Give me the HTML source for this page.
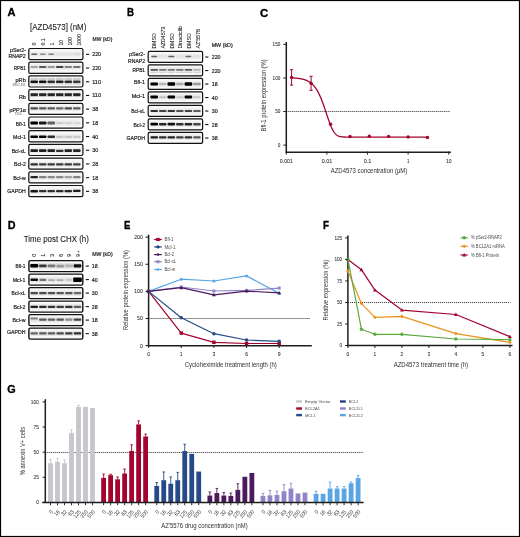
<!DOCTYPE html>
<html><head><meta charset="utf-8"><style>
html,body{margin:0;padding:0;background:#fff;}
svg{display:block;font-family:"Liberation Sans", sans-serif;will-change:transform;}
</style></head><body>
<svg width="520" height="537" viewBox="0 0 520 537">
<defs><filter id="bl" x="-20%" y="-60%" width="140%" height="220%"><feGaussianBlur stdDeviation="0.55"/></filter></defs>
<rect x="0" y="0" width="520" height="537" fill="#fff"/>
<text x="7.60" y="16.20" font-size="11.2" text-anchor="start" fill="#000" font-weight="bold" textLength="8.00" lengthAdjust="spacingAndGlyphs" stroke="#000" stroke-width="0.35">A</text>
<text x="127.00" y="16.40" font-size="11.2" text-anchor="start" fill="#000" font-weight="bold" textLength="7.00" lengthAdjust="spacingAndGlyphs" stroke="#000" stroke-width="0.35">B</text>
<text x="260.00" y="16.50" font-size="11.2" text-anchor="start" fill="#000" font-weight="bold" textLength="8.20" lengthAdjust="spacingAndGlyphs" stroke="#000" stroke-width="0.35">C</text>
<text x="7.80" y="229.00" font-size="11.2" text-anchor="start" fill="#000" font-weight="bold" textLength="7.80" lengthAdjust="spacingAndGlyphs" stroke="#000" stroke-width="0.35">D</text>
<text x="123.90" y="229.00" font-size="11.2" text-anchor="start" fill="#000" font-weight="bold" textLength="6.40" lengthAdjust="spacingAndGlyphs" stroke="#000" stroke-width="0.35">E</text>
<text x="323.10" y="229.00" font-size="11.2" text-anchor="start" fill="#000" font-weight="bold" textLength="6.00" lengthAdjust="spacingAndGlyphs" stroke="#000" stroke-width="0.35">F</text>
<text x="7.20" y="393.30" font-size="11.2" text-anchor="start" fill="#000" font-weight="bold" textLength="8.40" lengthAdjust="spacingAndGlyphs" stroke="#000" stroke-width="0.35">G</text>
<rect x="28.80" y="48.50" width="54.10" height="11.10" rx="1.4" fill="#f7f7f7" stroke="#111" stroke-width="1.2"/>
<g filter="url(#bl)">
<rect x="30.40" y="51.60" width="50.20" height="5.2" fill="#000" fill-opacity="0.05"/>
<rect x="31.20" y="53.45" width="6.00" height="1.50" rx="0.75" fill="#000" fill-opacity="0.60"/>
<rect x="39.72" y="53.45" width="6.00" height="1.50" rx="0.75" fill="#000" fill-opacity="0.42"/>
<rect x="48.24" y="53.45" width="6.00" height="1.50" rx="0.75" fill="#000" fill-opacity="0.45"/>
<rect x="55.96" y="53.10" width="7.60" height="2.20" rx="1.00" fill="#000" fill-opacity="0.03"/>
<rect x="64.48" y="53.10" width="7.60" height="2.20" rx="1.00" fill="#000" fill-opacity="0.03"/>
<rect x="73.00" y="53.10" width="7.60" height="2.20" rx="1.00" fill="#000" fill-opacity="0.06"/>
</g>
<text x="26.00" y="52.30" font-size="5.3" text-anchor="end" fill="#262626" stroke="#262626" stroke-width="0.2" textLength="16.00" lengthAdjust="spacingAndGlyphs" >pSer2-</text>
<text x="25.70" y="58.40" font-size="5.3" text-anchor="end" fill="#262626" stroke="#262626" stroke-width="0.2" textLength="17.30" lengthAdjust="spacingAndGlyphs" >RNAP2</text>
<line x1="86.00" y1="54.35" x2="89.20" y2="54.35" stroke="#111" stroke-width="1.1" />
<text x="92.20" y="56.30" font-size="5.3" text-anchor="start" fill="#262626" stroke="#262626" stroke-width="0.2" textLength="8.85" lengthAdjust="spacingAndGlyphs" >220</text>
<rect x="28.80" y="62.20" width="54.10" height="11.10" rx="1.4" fill="#f7f7f7" stroke="#111" stroke-width="1.2"/>
<g filter="url(#bl)">
<rect x="30.40" y="64.40" width="50.20" height="5.2" fill="#000" fill-opacity="0.05"/>
<rect x="30.40" y="65.90" width="7.60" height="2.20" rx="1.00" fill="#000" fill-opacity="0.30"/>
<rect x="38.92" y="65.90" width="7.60" height="2.20" rx="1.00" fill="#000" fill-opacity="0.62"/>
<rect x="47.44" y="65.90" width="7.60" height="2.20" rx="1.00" fill="#000" fill-opacity="0.35"/>
<rect x="55.96" y="65.90" width="7.60" height="2.20" rx="1.00" fill="#000" fill-opacity="0.72"/>
<rect x="64.48" y="65.90" width="7.60" height="2.20" rx="1.00" fill="#000" fill-opacity="0.45"/>
<rect x="73.00" y="65.90" width="7.60" height="2.20" rx="1.00" fill="#000" fill-opacity="0.50"/>
</g>
<text x="25.80" y="69.60" font-size="5.3" text-anchor="end" fill="#262626" stroke="#262626" stroke-width="0.2" textLength="12.00" lengthAdjust="spacingAndGlyphs" >RPB1</text>
<line x1="86.00" y1="68.05" x2="89.20" y2="68.05" stroke="#111" stroke-width="1.1" />
<text x="92.20" y="70.00" font-size="5.3" text-anchor="start" fill="#262626" stroke="#262626" stroke-width="0.2" textLength="8.85" lengthAdjust="spacingAndGlyphs" >220</text>
<rect x="28.80" y="75.90" width="54.10" height="11.10" rx="1.4" fill="#f7f7f7" stroke="#111" stroke-width="1.2"/>
<g filter="url(#bl)">
<rect x="30.40" y="79.00" width="50.20" height="5.2" fill="#000" fill-opacity="0.05"/>
<rect x="30.40" y="80.50" width="7.60" height="2.60" rx="1.00" fill="#000" fill-opacity="0.92"/>
<rect x="38.92" y="80.50" width="7.60" height="2.60" rx="1.00" fill="#000" fill-opacity="0.92"/>
<rect x="47.44" y="80.50" width="7.60" height="2.60" rx="1.00" fill="#000" fill-opacity="0.80"/>
<rect x="55.96" y="80.50" width="7.60" height="2.60" rx="1.00" fill="#000" fill-opacity="0.85"/>
<rect x="64.48" y="80.50" width="7.60" height="2.60" rx="1.00" fill="#000" fill-opacity="0.80"/>
<rect x="73.00" y="80.50" width="7.60" height="2.60" rx="1.00" fill="#000" fill-opacity="0.75"/>
<rect x="30.40" y="78.20" width="7.60" height="1.40" fill="#000" fill-opacity="0.22"/>
<rect x="38.92" y="78.20" width="7.60" height="1.40" fill="#000" fill-opacity="0.22"/>
<rect x="47.44" y="78.20" width="7.60" height="1.40" fill="#000" fill-opacity="0.22"/>
<rect x="55.96" y="78.20" width="7.60" height="1.40" fill="#000" fill-opacity="0.22"/>
<rect x="64.48" y="78.20" width="7.60" height="1.40" fill="#000" fill-opacity="0.22"/>
<rect x="73.00" y="78.20" width="7.60" height="1.40" fill="#000" fill-opacity="0.22"/>
<rect x="30.40" y="83.40" width="7.60" height="1.20" fill="#000" fill-opacity="0.15"/>
<rect x="38.92" y="83.40" width="7.60" height="1.20" fill="#000" fill-opacity="0.15"/>
<rect x="47.44" y="83.40" width="7.60" height="1.20" fill="#000" fill-opacity="0.15"/>
<rect x="55.96" y="83.40" width="7.60" height="1.20" fill="#000" fill-opacity="0.15"/>
<rect x="64.48" y="83.40" width="7.60" height="1.20" fill="#000" fill-opacity="0.15"/>
<rect x="73.00" y="83.40" width="7.60" height="1.20" fill="#000" fill-opacity="0.15"/>
</g>
<text x="25.80" y="82.10" font-size="5.3" text-anchor="end" fill="#262626" stroke="#262626" stroke-width="0.2" textLength="10.30" lengthAdjust="spacingAndGlyphs" >pRb</text>
<line x1="86.00" y1="81.75" x2="89.20" y2="81.75" stroke="#111" stroke-width="1.1" />
<text x="92.20" y="83.70" font-size="5.3" text-anchor="start" fill="#262626" stroke="#262626" stroke-width="0.2" textLength="8.85" lengthAdjust="spacingAndGlyphs" >110</text>
<rect x="28.80" y="89.60" width="54.10" height="11.10" rx="1.4" fill="#f7f7f7" stroke="#111" stroke-width="1.2"/>
<g filter="url(#bl)">
<rect x="30.40" y="92.00" width="50.20" height="5.2" fill="#000" fill-opacity="0.05"/>
<rect x="30.40" y="93.20" width="7.60" height="2.80" rx="1.00" fill="#000" fill-opacity="0.85"/>
<rect x="38.92" y="93.20" width="7.60" height="2.80" rx="1.00" fill="#000" fill-opacity="0.85"/>
<rect x="47.44" y="93.20" width="7.60" height="2.80" rx="1.00" fill="#000" fill-opacity="0.85"/>
<rect x="55.96" y="93.20" width="7.60" height="2.80" rx="1.00" fill="#000" fill-opacity="0.85"/>
<rect x="64.48" y="93.20" width="7.60" height="2.80" rx="1.00" fill="#000" fill-opacity="0.85"/>
<rect x="73.00" y="93.20" width="7.60" height="2.80" rx="1.00" fill="#000" fill-opacity="0.85"/>
<rect x="30.40" y="95.90" width="7.60" height="1.00" fill="#000" fill-opacity="0.20"/>
<rect x="38.92" y="95.90" width="7.60" height="1.00" fill="#000" fill-opacity="0.20"/>
<rect x="47.44" y="95.90" width="7.60" height="1.00" fill="#000" fill-opacity="0.20"/>
<rect x="55.96" y="95.90" width="7.60" height="1.00" fill="#000" fill-opacity="0.20"/>
<rect x="64.48" y="95.90" width="7.60" height="1.00" fill="#000" fill-opacity="0.20"/>
<rect x="73.00" y="95.90" width="7.60" height="1.00" fill="#000" fill-opacity="0.20"/>
</g>
<text x="25.80" y="99.00" font-size="5.3" text-anchor="end" fill="#262626" stroke="#262626" stroke-width="0.2" textLength="6.90" lengthAdjust="spacingAndGlyphs" >Rb</text>
<line x1="86.00" y1="95.45" x2="89.20" y2="95.45" stroke="#111" stroke-width="1.1" />
<text x="92.20" y="97.40" font-size="5.3" text-anchor="start" fill="#262626" stroke="#262626" stroke-width="0.2" textLength="8.85" lengthAdjust="spacingAndGlyphs" >110</text>
<rect x="28.80" y="103.30" width="54.10" height="11.10" rx="1.4" fill="#f7f7f7" stroke="#111" stroke-width="1.2"/>
<g filter="url(#bl)">
<rect x="30.40" y="105.70" width="50.20" height="5.2" fill="#000" fill-opacity="0.05"/>
<rect x="30.40" y="107.20" width="7.60" height="2.20" rx="1.00" fill="#000" fill-opacity="0.68"/>
<rect x="38.92" y="107.20" width="7.60" height="2.20" rx="1.00" fill="#000" fill-opacity="0.62"/>
<rect x="47.44" y="107.20" width="7.60" height="2.20" rx="1.00" fill="#000" fill-opacity="0.62"/>
<rect x="55.96" y="107.20" width="7.60" height="2.20" rx="1.00" fill="#000" fill-opacity="0.55"/>
<rect x="64.48" y="107.20" width="7.60" height="2.20" rx="1.00" fill="#000" fill-opacity="0.68"/>
<rect x="73.00" y="107.20" width="7.60" height="2.20" rx="1.00" fill="#000" fill-opacity="0.62"/>
</g>
<text x="25.80" y="111.80" font-size="5.3" text-anchor="end" fill="#262626" stroke="#262626" stroke-width="0.2" textLength="16.30" lengthAdjust="spacingAndGlyphs" >pPP1α</text>
<line x1="86.00" y1="109.15" x2="89.20" y2="109.15" stroke="#111" stroke-width="1.1" />
<text x="92.20" y="111.10" font-size="5.3" text-anchor="start" fill="#262626" stroke="#262626" stroke-width="0.2" textLength="5.90" lengthAdjust="spacingAndGlyphs" >38</text>
<rect x="28.80" y="117.00" width="54.10" height="11.10" rx="1.4" fill="#f7f7f7" stroke="#111" stroke-width="1.2"/>
<g filter="url(#bl)">
<rect x="30.40" y="120.40" width="50.20" height="5.2" fill="#000" fill-opacity="0.05"/>
<rect x="30.40" y="121.50" width="7.60" height="3.00" rx="1.00" fill="#000" fill-opacity="1.00"/>
<rect x="38.92" y="121.50" width="7.60" height="3.00" rx="1.00" fill="#000" fill-opacity="0.90"/>
<rect x="47.44" y="121.60" width="7.60" height="2.80" rx="1.00" fill="#000" fill-opacity="0.60"/>
<rect x="55.96" y="121.90" width="7.60" height="2.20" rx="1.00" fill="#000" fill-opacity="0.13"/>
<rect x="64.48" y="121.90" width="7.60" height="2.20" rx="1.00" fill="#000" fill-opacity="0.10"/>
<rect x="73.00" y="121.90" width="7.60" height="2.20" rx="1.00" fill="#000" fill-opacity="0.08"/>
</g>
<text x="25.80" y="125.90" font-size="5.3" text-anchor="end" fill="#262626" stroke="#262626" stroke-width="0.2" textLength="10.00" lengthAdjust="spacingAndGlyphs" >Bfl-1</text>
<line x1="86.00" y1="122.85" x2="89.20" y2="122.85" stroke="#111" stroke-width="1.1" />
<text x="92.20" y="124.80" font-size="5.3" text-anchor="start" fill="#262626" stroke="#262626" stroke-width="0.2" textLength="5.90" lengthAdjust="spacingAndGlyphs" >18</text>
<rect x="28.80" y="130.70" width="54.10" height="11.10" rx="1.4" fill="#f7f7f7" stroke="#111" stroke-width="1.2"/>
<g filter="url(#bl)">
<rect x="30.40" y="134.20" width="50.20" height="5.2" fill="#000" fill-opacity="0.05"/>
<rect x="30.40" y="135.50" width="7.60" height="2.60" rx="1.00" fill="#000" fill-opacity="1.00"/>
<rect x="38.92" y="135.50" width="7.60" height="2.60" rx="1.00" fill="#000" fill-opacity="1.00"/>
<rect x="47.44" y="135.50" width="7.60" height="2.60" rx="1.00" fill="#000" fill-opacity="0.82"/>
<rect x="55.96" y="135.70" width="7.60" height="2.20" rx="1.00" fill="#000" fill-opacity="0.16"/>
<rect x="64.48" y="135.70" width="7.60" height="2.20" rx="1.00" fill="#000" fill-opacity="0.16"/>
<rect x="73.00" y="135.70" width="7.60" height="2.20" rx="1.00" fill="#000" fill-opacity="0.14"/>
</g>
<text x="25.80" y="139.30" font-size="5.3" text-anchor="end" fill="#262626" stroke="#262626" stroke-width="0.2" textLength="12.70" lengthAdjust="spacingAndGlyphs" >Mcl-1</text>
<line x1="86.00" y1="136.55" x2="89.20" y2="136.55" stroke="#111" stroke-width="1.1" />
<text x="92.20" y="138.50" font-size="5.3" text-anchor="start" fill="#262626" stroke="#262626" stroke-width="0.2" textLength="5.90" lengthAdjust="spacingAndGlyphs" >40</text>
<rect x="28.80" y="144.40" width="54.10" height="11.10" rx="1.4" fill="#f7f7f7" stroke="#111" stroke-width="1.2"/>
<g filter="url(#bl)">
<rect x="30.40" y="148.00" width="50.20" height="5.2" fill="#000" fill-opacity="0.05"/>
<rect x="30.40" y="149.30" width="7.60" height="2.60" rx="1.00" fill="#000" fill-opacity="0.88"/>
<rect x="38.92" y="149.30" width="7.60" height="2.60" rx="1.00" fill="#000" fill-opacity="0.88"/>
<rect x="47.44" y="149.30" width="7.60" height="2.60" rx="1.00" fill="#000" fill-opacity="0.88"/>
<rect x="55.96" y="149.70" width="7.60" height="2.40" rx="1.00" fill="#000" fill-opacity="0.80"/>
<rect x="64.48" y="149.30" width="7.60" height="2.60" rx="1.00" fill="#000" fill-opacity="0.85"/>
<rect x="73.00" y="149.30" width="7.60" height="2.60" rx="1.00" fill="#000" fill-opacity="0.85"/>
</g>
<text x="25.80" y="152.60" font-size="5.3" text-anchor="end" fill="#262626" stroke="#262626" stroke-width="0.2" textLength="14.10" lengthAdjust="spacingAndGlyphs" >Bcl-xL</text>
<line x1="86.00" y1="150.25" x2="89.20" y2="150.25" stroke="#111" stroke-width="1.1" />
<text x="92.20" y="152.20" font-size="5.3" text-anchor="start" fill="#262626" stroke="#262626" stroke-width="0.2" textLength="5.90" lengthAdjust="spacingAndGlyphs" >30</text>
<rect x="28.80" y="158.10" width="54.10" height="11.10" rx="1.4" fill="#f7f7f7" stroke="#111" stroke-width="1.2"/>
<g filter="url(#bl)">
<rect x="30.40" y="161.70" width="50.20" height="5.2" fill="#000" fill-opacity="0.05"/>
<rect x="30.40" y="163.20" width="7.60" height="2.20" rx="1.00" fill="#000" fill-opacity="0.80"/>
<rect x="38.92" y="163.20" width="7.60" height="2.20" rx="1.00" fill="#000" fill-opacity="0.75"/>
<rect x="47.44" y="163.20" width="7.60" height="2.20" rx="1.00" fill="#000" fill-opacity="0.75"/>
<rect x="55.96" y="163.20" width="7.60" height="2.20" rx="1.00" fill="#000" fill-opacity="0.75"/>
<rect x="64.48" y="163.20" width="7.60" height="2.20" rx="1.00" fill="#000" fill-opacity="0.75"/>
<rect x="73.00" y="163.20" width="7.60" height="2.20" rx="1.00" fill="#000" fill-opacity="0.72"/>
</g>
<text x="25.80" y="166.30" font-size="5.3" text-anchor="end" fill="#262626" stroke="#262626" stroke-width="0.2" textLength="11.80" lengthAdjust="spacingAndGlyphs" >Bcl-2</text>
<line x1="86.00" y1="163.95" x2="89.20" y2="163.95" stroke="#111" stroke-width="1.1" />
<text x="92.20" y="165.90" font-size="5.3" text-anchor="start" fill="#262626" stroke="#262626" stroke-width="0.2" textLength="5.90" lengthAdjust="spacingAndGlyphs" >28</text>
<rect x="28.80" y="171.80" width="54.10" height="11.10" rx="1.4" fill="#f7f7f7" stroke="#111" stroke-width="1.2"/>
<g filter="url(#bl)">
<rect x="30.40" y="174.50" width="50.20" height="5.2" fill="#000" fill-opacity="0.05"/>
<rect x="30.40" y="175.90" width="7.60" height="2.40" rx="1.00" fill="#000" fill-opacity="0.85"/>
<rect x="38.92" y="176.00" width="7.60" height="2.20" rx="1.00" fill="#000" fill-opacity="0.45"/>
<rect x="47.44" y="176.00" width="7.60" height="2.20" rx="1.00" fill="#000" fill-opacity="0.42"/>
<rect x="55.96" y="176.00" width="7.60" height="2.20" rx="1.00" fill="#000" fill-opacity="0.42"/>
<rect x="64.48" y="176.00" width="7.60" height="2.20" rx="1.00" fill="#000" fill-opacity="0.32"/>
<rect x="73.00" y="176.00" width="7.60" height="2.20" rx="1.00" fill="#000" fill-opacity="0.45"/>
</g>
<text x="25.80" y="179.70" font-size="5.3" text-anchor="end" fill="#262626" stroke="#262626" stroke-width="0.2" textLength="12.60" lengthAdjust="spacingAndGlyphs" >Bcl-w</text>
<line x1="86.00" y1="177.65" x2="89.20" y2="177.65" stroke="#111" stroke-width="1.1" />
<text x="92.20" y="179.60" font-size="5.3" text-anchor="start" fill="#262626" stroke="#262626" stroke-width="0.2" textLength="5.90" lengthAdjust="spacingAndGlyphs" >18</text>
<rect x="28.80" y="185.50" width="54.10" height="11.10" rx="1.4" fill="#f7f7f7" stroke="#111" stroke-width="1.2"/>
<g filter="url(#bl)">
<rect x="30.40" y="188.60" width="50.20" height="5.2" fill="#000" fill-opacity="0.05"/>
<rect x="30.40" y="190.00" width="7.60" height="2.40" rx="1.00" fill="#000" fill-opacity="0.92"/>
<rect x="38.92" y="190.10" width="7.60" height="2.20" rx="1.00" fill="#000" fill-opacity="0.80"/>
<rect x="47.44" y="190.10" width="7.60" height="2.20" rx="1.00" fill="#000" fill-opacity="0.80"/>
<rect x="55.96" y="190.10" width="7.60" height="2.20" rx="1.00" fill="#000" fill-opacity="0.82"/>
<rect x="64.48" y="190.10" width="7.60" height="2.20" rx="1.00" fill="#000" fill-opacity="0.85"/>
<rect x="73.00" y="189.80" width="7.60" height="2.20" rx="1.00" fill="#000" fill-opacity="0.88"/>
</g>
<text x="25.80" y="192.90" font-size="5.3" text-anchor="end" fill="#262626" stroke="#262626" stroke-width="0.2" textLength="18.50" lengthAdjust="spacingAndGlyphs" >GAPDH</text>
<line x1="86.00" y1="191.35" x2="89.20" y2="191.35" stroke="#111" stroke-width="1.1" />
<text x="92.20" y="193.30" font-size="5.3" text-anchor="start" fill="#262626" stroke="#262626" stroke-width="0.2" textLength="5.90" lengthAdjust="spacingAndGlyphs" >38</text>
<text x="25.50" y="86.00" font-size="3.0" text-anchor="end" fill="#555" textLength="13.00" lengthAdjust="spacingAndGlyphs" >S807-811</text>
<text x="21.30" y="115.20" font-size="3.0" text-anchor="end" fill="#555" textLength="6.80" lengthAdjust="spacingAndGlyphs" >T320</text>
<text x="30.10" y="29.70" font-size="8.2" text-anchor="start" fill="#262626" stroke="#262626" stroke-width="0.12" textLength="56.20" lengthAdjust="spacingAndGlyphs" >[AZD4573] (nM)</text>
<text x="36.00" y="45.60" font-size="5.6" text-anchor="start" fill="#262626" stroke="#262626" stroke-width="0.1" textLength="2.85" lengthAdjust="spacingAndGlyphs" transform="rotate(-90 36.00 45.60)" >0</text>
<text x="44.75" y="45.60" font-size="5.6" text-anchor="start" fill="#262626" stroke="#262626" stroke-width="0.1" textLength="7.10" lengthAdjust="spacingAndGlyphs" transform="rotate(-90 44.75 45.60)" >0.1</text>
<text x="54.00" y="45.60" font-size="5.6" text-anchor="start" fill="#262626" stroke="#262626" stroke-width="0.1" textLength="2.85" lengthAdjust="spacingAndGlyphs" transform="rotate(-90 54.00 45.60)" >1</text>
<text x="63.15" y="45.60" font-size="5.6" text-anchor="start" fill="#262626" stroke="#262626" stroke-width="0.1" textLength="5.70" lengthAdjust="spacingAndGlyphs" transform="rotate(-90 63.15 45.60)" >10</text>
<text x="72.10" y="45.60" font-size="5.6" text-anchor="start" fill="#262626" stroke="#262626" stroke-width="0.1" textLength="8.55" lengthAdjust="spacingAndGlyphs" transform="rotate(-90 72.10 45.60)" >100</text>
<text x="81.20" y="45.60" font-size="5.6" text-anchor="start" fill="#262626" stroke="#262626" stroke-width="0.1" textLength="11.40" lengthAdjust="spacingAndGlyphs" transform="rotate(-90 81.20 45.60)" >1000</text>
<text x="92.60" y="41.00" font-size="5.0" text-anchor="start" fill="#262626" stroke="#262626" stroke-width="0.2" textLength="19.70" lengthAdjust="spacingAndGlyphs" >MW (kD)</text>
<rect x="148.20" y="51.30" width="54.40" height="11.10" rx="1.4" fill="#f7f7f7" stroke="#111" stroke-width="1.2"/>
<g filter="url(#bl)">
<rect x="150.40" y="53.90" width="50.35" height="5.2" fill="#000" fill-opacity="0.05"/>
<rect x="151.20" y="55.75" width="6.00" height="1.50" rx="0.75" fill="#000" fill-opacity="0.60"/>
<rect x="158.95" y="55.40" width="7.60" height="2.20" rx="1.00" fill="#000" fill-opacity="0.04"/>
<rect x="168.30" y="55.75" width="6.00" height="1.50" rx="0.75" fill="#000" fill-opacity="0.60"/>
<rect x="176.05" y="55.40" width="7.60" height="2.20" rx="1.00" fill="#000" fill-opacity="0.04"/>
<rect x="185.40" y="55.75" width="6.00" height="1.50" rx="0.75" fill="#000" fill-opacity="0.55"/>
<rect x="193.15" y="55.40" width="7.60" height="2.20" rx="1.00" fill="#000" fill-opacity="0.05"/>
</g>
<text x="145.10" y="56.20" font-size="5.3" text-anchor="end" fill="#262626" stroke="#262626" stroke-width="0.2" textLength="16.10" lengthAdjust="spacingAndGlyphs" >pSer2-</text>
<text x="145.10" y="62.70" font-size="5.3" text-anchor="end" fill="#262626" stroke="#262626" stroke-width="0.2" textLength="17.10" lengthAdjust="spacingAndGlyphs" >RNAP2</text>
<line x1="205.20" y1="57.05" x2="208.40" y2="57.05" stroke="#111" stroke-width="1.1" />
<text x="211.70" y="59.00" font-size="5.3" text-anchor="start" fill="#262626" stroke="#262626" stroke-width="0.2" textLength="8.85" lengthAdjust="spacingAndGlyphs" >220</text>
<rect x="148.20" y="64.80" width="54.40" height="11.10" rx="1.4" fill="#f7f7f7" stroke="#111" stroke-width="1.2"/>
<g filter="url(#bl)">
<rect x="150.40" y="67.20" width="50.35" height="5.2" fill="#000" fill-opacity="0.05"/>
<rect x="150.40" y="68.95" width="7.60" height="1.70" rx="0.85" fill="#000" fill-opacity="0.65"/>
<rect x="158.95" y="68.95" width="7.60" height="1.70" rx="0.85" fill="#000" fill-opacity="0.50"/>
<rect x="167.50" y="68.95" width="7.60" height="1.70" rx="0.85" fill="#000" fill-opacity="0.50"/>
<rect x="176.05" y="68.95" width="7.60" height="1.70" rx="0.85" fill="#000" fill-opacity="0.50"/>
<rect x="184.60" y="68.95" width="7.60" height="1.70" rx="0.85" fill="#000" fill-opacity="0.62"/>
<rect x="193.15" y="68.95" width="7.60" height="1.70" rx="0.85" fill="#000" fill-opacity="0.25"/>
<rect x="150.40" y="71.90" width="7.60" height="1.00" fill="#000" fill-opacity="0.15"/>
<rect x="158.95" y="71.90" width="7.60" height="1.00" fill="#000" fill-opacity="0.15"/>
<rect x="167.50" y="71.90" width="7.60" height="1.00" fill="#000" fill-opacity="0.15"/>
<rect x="176.05" y="71.90" width="7.60" height="1.00" fill="#000" fill-opacity="0.15"/>
<rect x="184.60" y="71.90" width="7.60" height="1.00" fill="#000" fill-opacity="0.15"/>
<rect x="193.15" y="71.90" width="7.60" height="1.00" fill="#000" fill-opacity="0.15"/>
</g>
<text x="145.00" y="71.80" font-size="5.3" text-anchor="end" fill="#262626" stroke="#262626" stroke-width="0.2" textLength="12.50" lengthAdjust="spacingAndGlyphs" >RPB1</text>
<line x1="205.20" y1="70.55" x2="208.40" y2="70.55" stroke="#111" stroke-width="1.1" />
<text x="211.70" y="72.50" font-size="5.3" text-anchor="start" fill="#262626" stroke="#262626" stroke-width="0.2" textLength="8.85" lengthAdjust="spacingAndGlyphs" >220</text>
<rect x="148.20" y="78.30" width="54.40" height="11.10" rx="1.4" fill="#f7f7f7" stroke="#111" stroke-width="1.2"/>
<g filter="url(#bl)">
<rect x="150.40" y="81.40" width="50.35" height="5.2" fill="#000" fill-opacity="0.05"/>
<rect x="150.40" y="82.40" width="7.60" height="3.20" rx="1.00" fill="#000" fill-opacity="1.00"/>
<rect x="158.95" y="82.80" width="7.60" height="2.40" rx="1.00" fill="#000" fill-opacity="0.22"/>
<rect x="167.50" y="82.30" width="7.60" height="3.40" rx="1.00" fill="#000" fill-opacity="1.00"/>
<rect x="176.05" y="82.80" width="7.60" height="2.40" rx="1.00" fill="#000" fill-opacity="0.28"/>
<rect x="184.60" y="82.30" width="7.60" height="3.40" rx="1.00" fill="#000" fill-opacity="1.00"/>
<rect x="193.15" y="82.80" width="7.60" height="2.40" rx="1.00" fill="#000" fill-opacity="0.35"/>
</g>
<text x="145.00" y="84.40" font-size="5.3" text-anchor="end" fill="#262626" stroke="#262626" stroke-width="0.2" textLength="10.90" lengthAdjust="spacingAndGlyphs" >Bfl-1</text>
<line x1="205.20" y1="84.05" x2="208.40" y2="84.05" stroke="#111" stroke-width="1.1" />
<text x="211.70" y="86.00" font-size="5.3" text-anchor="start" fill="#262626" stroke="#262626" stroke-width="0.2" textLength="5.90" lengthAdjust="spacingAndGlyphs" >18</text>
<rect x="148.20" y="91.80" width="54.40" height="11.10" rx="1.4" fill="#f7f7f7" stroke="#111" stroke-width="1.2"/>
<g filter="url(#bl)">
<rect x="150.40" y="94.30" width="50.35" height="5.2" fill="#000" fill-opacity="0.05"/>
<rect x="150.40" y="95.40" width="7.60" height="3.00" rx="1.00" fill="#000" fill-opacity="1.00"/>
<rect x="158.95" y="96.30" width="7.60" height="2.00" rx="1.00" fill="#000" fill-opacity="0.18"/>
<rect x="167.50" y="95.40" width="7.60" height="3.00" rx="1.00" fill="#000" fill-opacity="1.00"/>
<rect x="176.05" y="96.30" width="7.60" height="2.00" rx="1.00" fill="#000" fill-opacity="0.15"/>
<rect x="184.60" y="95.40" width="7.60" height="3.00" rx="1.00" fill="#000" fill-opacity="1.00"/>
<rect x="193.15" y="96.30" width="7.60" height="2.00" rx="1.00" fill="#000" fill-opacity="0.15"/>
</g>
<text x="145.00" y="98.40" font-size="5.3" text-anchor="end" fill="#262626" stroke="#262626" stroke-width="0.2" textLength="13.30" lengthAdjust="spacingAndGlyphs" >Mcl-1</text>
<line x1="205.20" y1="97.55" x2="208.40" y2="97.55" stroke="#111" stroke-width="1.1" />
<text x="211.70" y="99.50" font-size="5.3" text-anchor="start" fill="#262626" stroke="#262626" stroke-width="0.2" textLength="5.90" lengthAdjust="spacingAndGlyphs" >40</text>
<rect x="148.20" y="105.30" width="54.40" height="11.10" rx="1.4" fill="#f7f7f7" stroke="#111" stroke-width="1.2"/>
<g filter="url(#bl)">
<rect x="150.40" y="108.40" width="50.35" height="5.2" fill="#000" fill-opacity="0.05"/>
<rect x="150.40" y="109.90" width="7.60" height="2.20" rx="1.00" fill="#000" fill-opacity="0.80"/>
<rect x="158.95" y="109.90" width="7.60" height="2.20" rx="1.00" fill="#000" fill-opacity="0.72"/>
<rect x="167.50" y="109.90" width="7.60" height="2.20" rx="1.00" fill="#000" fill-opacity="0.78"/>
<rect x="176.05" y="109.90" width="7.60" height="2.20" rx="1.00" fill="#000" fill-opacity="0.66"/>
<rect x="184.60" y="109.90" width="7.60" height="2.20" rx="1.00" fill="#000" fill-opacity="0.72"/>
<rect x="193.15" y="109.90" width="7.60" height="2.20" rx="1.00" fill="#000" fill-opacity="0.60"/>
</g>
<text x="145.00" y="113.00" font-size="5.3" text-anchor="end" fill="#262626" stroke="#262626" stroke-width="0.2" textLength="13.70" lengthAdjust="spacingAndGlyphs" >Bcl-xL</text>
<line x1="205.20" y1="111.05" x2="208.40" y2="111.05" stroke="#111" stroke-width="1.1" />
<text x="211.70" y="113.00" font-size="5.3" text-anchor="start" fill="#262626" stroke="#262626" stroke-width="0.2" textLength="5.90" lengthAdjust="spacingAndGlyphs" >30</text>
<rect x="148.20" y="118.80" width="54.40" height="11.10" rx="1.4" fill="#f7f7f7" stroke="#111" stroke-width="1.2"/>
<g filter="url(#bl)">
<rect x="150.40" y="121.60" width="50.35" height="5.2" fill="#000" fill-opacity="0.05"/>
<rect x="150.40" y="122.80" width="7.60" height="2.80" rx="1.00" fill="#000" fill-opacity="1.00"/>
<rect x="158.95" y="122.90" width="7.60" height="2.60" rx="1.00" fill="#000" fill-opacity="0.85"/>
<rect x="167.50" y="122.80" width="7.60" height="2.80" rx="1.00" fill="#000" fill-opacity="0.92"/>
<rect x="176.05" y="122.90" width="7.60" height="2.60" rx="1.00" fill="#000" fill-opacity="0.80"/>
<rect x="184.60" y="122.90" width="7.60" height="2.60" rx="1.00" fill="#000" fill-opacity="0.85"/>
<rect x="193.15" y="123.00" width="7.60" height="2.40" rx="1.00" fill="#000" fill-opacity="0.70"/>
</g>
<text x="145.00" y="127.00" font-size="5.3" text-anchor="end" fill="#262626" stroke="#262626" stroke-width="0.2" textLength="11.50" lengthAdjust="spacingAndGlyphs" >Bcl-2</text>
<line x1="205.20" y1="124.55" x2="208.40" y2="124.55" stroke="#111" stroke-width="1.1" />
<text x="211.70" y="126.50" font-size="5.3" text-anchor="start" fill="#262626" stroke="#262626" stroke-width="0.2" textLength="5.90" lengthAdjust="spacingAndGlyphs" >28</text>
<rect x="148.20" y="132.30" width="54.40" height="11.10" rx="1.4" fill="#f7f7f7" stroke="#111" stroke-width="1.2"/>
<g filter="url(#bl)">
<rect x="150.40" y="134.70" width="50.35" height="5.2" fill="#000" fill-opacity="0.05"/>
<rect x="150.40" y="136.20" width="7.60" height="2.20" rx="1.00" fill="#000" fill-opacity="0.88"/>
<rect x="158.95" y="136.20" width="7.60" height="2.20" rx="1.00" fill="#000" fill-opacity="0.80"/>
<rect x="167.50" y="136.20" width="7.60" height="2.20" rx="1.00" fill="#000" fill-opacity="0.85"/>
<rect x="176.05" y="136.20" width="7.60" height="2.20" rx="1.00" fill="#000" fill-opacity="0.72"/>
<rect x="184.60" y="136.20" width="7.60" height="2.20" rx="1.00" fill="#000" fill-opacity="0.80"/>
<rect x="193.15" y="136.20" width="7.60" height="2.20" rx="1.00" fill="#000" fill-opacity="0.62"/>
</g>
<text x="145.00" y="140.30" font-size="5.3" text-anchor="end" fill="#262626" stroke="#262626" stroke-width="0.2" textLength="18.60" lengthAdjust="spacingAndGlyphs" >GAPDH</text>
<line x1="205.20" y1="138.05" x2="208.40" y2="138.05" stroke="#111" stroke-width="1.1" />
<text x="211.70" y="140.00" font-size="5.3" text-anchor="start" fill="#262626" stroke="#262626" stroke-width="0.2" textLength="5.90" lengthAdjust="spacingAndGlyphs" >38</text>
<text x="211.70" y="46.60" font-size="5.0" text-anchor="start" fill="#262626" stroke="#262626" stroke-width="0.2" textLength="21.00" lengthAdjust="spacingAndGlyphs" >MW (kD)</text>
<text x="155.65" y="48.60" font-size="5.8" text-anchor="start" fill="#262626" stroke="#262626" stroke-width="0.1" textLength="15.50" lengthAdjust="spacingAndGlyphs" transform="rotate(-90 155.65 48.60)" >DMSO</text>
<text x="164.80" y="48.60" font-size="5.8" text-anchor="start" fill="#262626" stroke="#262626" stroke-width="0.1" textLength="22.00" lengthAdjust="spacingAndGlyphs" transform="rotate(-90 164.80 48.60)" >AZD4573</text>
<text x="173.60" y="48.60" font-size="5.8" text-anchor="start" fill="#262626" stroke="#262626" stroke-width="0.1" textLength="15.50" lengthAdjust="spacingAndGlyphs" transform="rotate(-90 173.60 48.60)" >DMSO</text>
<text x="182.30" y="48.60" font-size="5.8" text-anchor="start" fill="#262626" stroke="#262626" stroke-width="0.1" textLength="22.50" lengthAdjust="spacingAndGlyphs" transform="rotate(-90 182.30 48.60)" >Dinaciclib</text>
<text x="190.70" y="48.60" font-size="5.8" text-anchor="start" fill="#262626" stroke="#262626" stroke-width="0.1" textLength="15.50" lengthAdjust="spacingAndGlyphs" transform="rotate(-90 190.70 48.60)" >DMSO</text>
<text x="199.60" y="48.60" font-size="5.8" text-anchor="start" fill="#262626" stroke="#262626" stroke-width="0.1" textLength="19.50" lengthAdjust="spacingAndGlyphs" transform="rotate(-90 199.60 48.60)" >AZ'5576</text>
<rect x="28.90" y="260.60" width="53.90" height="11.00" rx="1.4" fill="#f7f7f7" stroke="#111" stroke-width="1.4"/>
<g filter="url(#bl)">
<rect x="30.40" y="263.20" width="50.90" height="5.2" fill="#000" fill-opacity="0.12"/>
<rect x="30.20" y="264.00" width="8.00" height="3.60" rx="1.00" fill="#000" fill-opacity="1.00"/>
<rect x="39.06" y="264.40" width="7.60" height="2.80" rx="1.00" fill="#000" fill-opacity="0.75"/>
<rect x="47.72" y="264.40" width="7.60" height="2.80" rx="1.00" fill="#000" fill-opacity="0.45"/>
<rect x="56.38" y="264.70" width="7.60" height="2.80" rx="1.00" fill="#000" fill-opacity="0.30"/>
<rect x="65.04" y="264.50" width="7.60" height="2.60" rx="1.00" fill="#000" fill-opacity="0.18"/>
<rect x="73.70" y="264.20" width="7.60" height="3.20" rx="1.00" fill="#000" fill-opacity="0.92"/>
</g>
<text x="25.50" y="268.00" font-size="5.3" text-anchor="end" fill="#262626" stroke="#262626" stroke-width="0.2" textLength="9.90" lengthAdjust="spacingAndGlyphs" >Bfl-1</text>
<line x1="85.70" y1="266.10" x2="88.90" y2="266.10" stroke="#111" stroke-width="1.1" />
<text x="91.80" y="268.05" font-size="5.3" text-anchor="start" fill="#262626" stroke="#262626" stroke-width="0.2" textLength="5.90" lengthAdjust="spacingAndGlyphs" >18</text>
<rect x="28.90" y="274.10" width="53.90" height="11.00" rx="1.4" fill="#f7f7f7" stroke="#111" stroke-width="1.4"/>
<g filter="url(#bl)">
<rect x="30.40" y="277.20" width="50.90" height="5.2" fill="#000" fill-opacity="0.07"/>
<rect x="30.40" y="278.50" width="7.60" height="2.60" rx="1.00" fill="#000" fill-opacity="0.95"/>
<rect x="39.36" y="278.70" width="7.00" height="2.20" rx="1.00" fill="#000" fill-opacity="0.50"/>
<rect x="48.02" y="279.20" width="7.00" height="1.80" rx="0.90" fill="#000" fill-opacity="0.28"/>
<rect x="56.68" y="279.20" width="7.00" height="1.80" rx="0.90" fill="#000" fill-opacity="0.28"/>
<rect x="65.34" y="278.90" width="7.00" height="1.80" rx="0.90" fill="#000" fill-opacity="0.15"/>
<rect x="73.20" y="277.50" width="8.60" height="4.60" rx="1.00" fill="#000" fill-opacity="1.00"/>
</g>
<text x="25.50" y="281.80" font-size="5.3" text-anchor="end" fill="#262626" stroke="#262626" stroke-width="0.2" textLength="12.70" lengthAdjust="spacingAndGlyphs" >Mcl-1</text>
<line x1="85.70" y1="279.60" x2="88.90" y2="279.60" stroke="#111" stroke-width="1.1" />
<text x="91.80" y="281.55" font-size="5.3" text-anchor="start" fill="#262626" stroke="#262626" stroke-width="0.2" textLength="5.90" lengthAdjust="spacingAndGlyphs" >40</text>
<rect x="28.90" y="287.60" width="53.90" height="11.00" rx="1.4" fill="#f7f7f7" stroke="#111" stroke-width="1.4"/>
<g filter="url(#bl)">
<rect x="30.40" y="290.60" width="50.90" height="5.2" fill="#000" fill-opacity="0.07"/>
<rect x="30.40" y="292.10" width="7.60" height="2.20" rx="1.00" fill="#000" fill-opacity="0.68"/>
<rect x="39.06" y="292.10" width="7.60" height="2.20" rx="1.00" fill="#000" fill-opacity="0.68"/>
<rect x="47.72" y="292.10" width="7.60" height="2.20" rx="1.00" fill="#000" fill-opacity="0.65"/>
<rect x="56.38" y="292.10" width="7.60" height="2.20" rx="1.00" fill="#000" fill-opacity="0.62"/>
<rect x="65.04" y="292.10" width="7.60" height="2.20" rx="1.00" fill="#000" fill-opacity="0.62"/>
<rect x="73.70" y="292.10" width="7.60" height="2.20" rx="1.00" fill="#000" fill-opacity="0.55"/>
</g>
<text x="25.50" y="294.70" font-size="5.3" text-anchor="end" fill="#262626" stroke="#262626" stroke-width="0.2" textLength="13.90" lengthAdjust="spacingAndGlyphs" >Bcl-xL</text>
<line x1="85.70" y1="293.10" x2="88.90" y2="293.10" stroke="#111" stroke-width="1.1" />
<text x="91.80" y="295.05" font-size="5.3" text-anchor="start" fill="#262626" stroke="#262626" stroke-width="0.2" textLength="5.90" lengthAdjust="spacingAndGlyphs" >30</text>
<rect x="28.90" y="301.10" width="53.90" height="11.00" rx="1.4" fill="#f7f7f7" stroke="#111" stroke-width="1.4"/>
<g filter="url(#bl)">
<rect x="30.40" y="304.20" width="50.90" height="5.2" fill="#000" fill-opacity="0.07"/>
<rect x="30.40" y="305.70" width="7.60" height="2.20" rx="1.00" fill="#000" fill-opacity="0.88"/>
<rect x="39.06" y="305.70" width="7.60" height="2.20" rx="1.00" fill="#000" fill-opacity="0.82"/>
<rect x="47.72" y="305.70" width="7.60" height="2.20" rx="1.00" fill="#000" fill-opacity="0.78"/>
<rect x="56.38" y="305.70" width="7.60" height="2.20" rx="1.00" fill="#000" fill-opacity="0.74"/>
<rect x="65.04" y="305.70" width="7.60" height="2.20" rx="1.00" fill="#000" fill-opacity="0.78"/>
<rect x="73.70" y="305.70" width="7.60" height="2.20" rx="1.00" fill="#000" fill-opacity="0.60"/>
</g>
<text x="25.50" y="308.90" font-size="5.3" text-anchor="end" fill="#262626" stroke="#262626" stroke-width="0.2" textLength="12.00" lengthAdjust="spacingAndGlyphs" >Bcl-2</text>
<line x1="85.70" y1="306.60" x2="88.90" y2="306.60" stroke="#111" stroke-width="1.1" />
<text x="91.80" y="308.55" font-size="5.3" text-anchor="start" fill="#262626" stroke="#262626" stroke-width="0.2" textLength="5.90" lengthAdjust="spacingAndGlyphs" >28</text>
<rect x="28.90" y="314.60" width="53.90" height="11.00" rx="1.4" fill="#f7f7f7" stroke="#111" stroke-width="1.4"/>
<g filter="url(#bl)">
<rect x="30.40" y="317.00" width="50.90" height="5.2" fill="#000" fill-opacity="0.07"/>
<rect x="30.40" y="317.60" width="7.60" height="2.00" rx="1.00" fill="#000" fill-opacity="0.45"/>
<rect x="39.06" y="318.50" width="7.60" height="2.20" rx="1.00" fill="#000" fill-opacity="0.62"/>
<rect x="47.72" y="318.50" width="7.60" height="2.20" rx="1.00" fill="#000" fill-opacity="0.58"/>
<rect x="56.38" y="318.50" width="7.60" height="2.20" rx="1.00" fill="#000" fill-opacity="0.62"/>
<rect x="65.04" y="318.50" width="7.60" height="2.20" rx="1.00" fill="#000" fill-opacity="0.40"/>
<rect x="73.70" y="318.50" width="7.60" height="2.20" rx="1.00" fill="#000" fill-opacity="0.72"/>
</g>
<text x="25.50" y="321.80" font-size="5.3" text-anchor="end" fill="#262626" stroke="#262626" stroke-width="0.2" textLength="12.90" lengthAdjust="spacingAndGlyphs" >Bcl-w</text>
<line x1="85.70" y1="320.10" x2="88.90" y2="320.10" stroke="#111" stroke-width="1.1" />
<text x="91.80" y="322.05" font-size="5.3" text-anchor="start" fill="#262626" stroke="#262626" stroke-width="0.2" textLength="5.90" lengthAdjust="spacingAndGlyphs" >18</text>
<rect x="28.90" y="328.10" width="53.90" height="11.00" rx="1.4" fill="#f7f7f7" stroke="#111" stroke-width="1.4"/>
<g filter="url(#bl)">
<rect x="30.40" y="330.80" width="50.90" height="5.2" fill="#000" fill-opacity="0.07"/>
<rect x="30.40" y="332.30" width="7.60" height="2.20" rx="1.00" fill="#000" fill-opacity="0.55"/>
<rect x="39.06" y="332.30" width="7.60" height="2.20" rx="1.00" fill="#000" fill-opacity="0.60"/>
<rect x="47.72" y="332.30" width="7.60" height="2.20" rx="1.00" fill="#000" fill-opacity="0.60"/>
<rect x="56.38" y="332.30" width="7.60" height="2.20" rx="1.00" fill="#000" fill-opacity="0.68"/>
<rect x="65.04" y="332.30" width="7.60" height="2.20" rx="1.00" fill="#000" fill-opacity="0.74"/>
<rect x="73.70" y="332.30" width="7.60" height="2.20" rx="1.00" fill="#000" fill-opacity="0.80"/>
</g>
<text x="25.50" y="333.80" font-size="5.3" text-anchor="end" fill="#262626" stroke="#262626" stroke-width="0.2" textLength="18.50" lengthAdjust="spacingAndGlyphs" >GAPDH</text>
<line x1="85.70" y1="333.60" x2="88.90" y2="333.60" stroke="#111" stroke-width="1.1" />
<text x="91.80" y="335.55" font-size="5.3" text-anchor="start" fill="#262626" stroke="#262626" stroke-width="0.2" textLength="5.90" lengthAdjust="spacingAndGlyphs" >38</text>
<text x="23.80" y="242.00" font-size="8.4" text-anchor="start" fill="#262626" stroke="#262626" stroke-width="0.12" textLength="65.00" lengthAdjust="spacingAndGlyphs" >Time post CHX (h)</text>
<text x="36.30" y="256.80" font-size="5.6" text-anchor="start" fill="#262626" stroke="#262626" stroke-width="0.1" textLength="2.90" lengthAdjust="spacingAndGlyphs" transform="rotate(-90 36.30 256.80)" >0</text>
<text x="45.10" y="256.80" font-size="5.6" text-anchor="start" fill="#262626" stroke="#262626" stroke-width="0.1" textLength="2.90" lengthAdjust="spacingAndGlyphs" transform="rotate(-90 45.10 256.80)" >1</text>
<text x="53.60" y="256.80" font-size="5.6" text-anchor="start" fill="#262626" stroke="#262626" stroke-width="0.1" textLength="2.90" lengthAdjust="spacingAndGlyphs" transform="rotate(-90 53.60 256.80)" >3</text>
<text x="62.60" y="256.80" font-size="5.6" text-anchor="start" fill="#262626" stroke="#262626" stroke-width="0.1" textLength="2.90" lengthAdjust="spacingAndGlyphs" transform="rotate(-90 62.60 256.80)" >6</text>
<text x="71.00" y="256.80" font-size="5.6" text-anchor="start" fill="#262626" stroke="#262626" stroke-width="0.1" textLength="2.90" lengthAdjust="spacingAndGlyphs" transform="rotate(-90 71.00 256.80)" >9</text>
<text x="80.00" y="256.80" font-size="5.6" text-anchor="start" fill="#262626" stroke="#262626" stroke-width="0.1" textLength="2.90" lengthAdjust="spacingAndGlyphs" transform="rotate(-90 80.00 256.80)" >9</text>
<text x="79.70" y="251.80" font-size="4.6" text-anchor="middle" fill="#262626" stroke="#262626" stroke-width="0.05" transform="rotate(-90 79.70 251.80)" >+</text>
<text x="92.20" y="255.60" font-size="5.0" text-anchor="start" fill="#262626" stroke="#262626" stroke-width="0.2" textLength="20.50" lengthAdjust="spacingAndGlyphs" >MW (kD)</text>
<line x1="286.30" y1="111.50" x2="450.50" y2="111.50" stroke="#2a2a2a" stroke-width="1.0" stroke-dasharray="1 1"/>
<line x1="286.30" y1="42.00" x2="286.30" y2="152.80" stroke="#1e1e1e" stroke-width="1.5" />
<line x1="285.70" y1="152.20" x2="450.90" y2="152.20" stroke="#1e1e1e" stroke-width="1.5" />
<line x1="283.30" y1="145.10" x2="286.30" y2="145.10" stroke="#1e1e1e" stroke-width="1.0" />
<text x="280.40" y="147.00" font-size="5.5" text-anchor="end" fill="#303030" stroke="#303030" stroke-width="0.08" textLength="2.60" lengthAdjust="spacingAndGlyphs" >0</text>
<line x1="283.30" y1="111.52" x2="286.30" y2="111.52" stroke="#1e1e1e" stroke-width="1.0" />
<text x="280.40" y="113.42" font-size="5.5" text-anchor="end" fill="#303030" stroke="#303030" stroke-width="0.08" textLength="5.20" lengthAdjust="spacingAndGlyphs" >50</text>
<line x1="283.30" y1="77.95" x2="286.30" y2="77.95" stroke="#1e1e1e" stroke-width="1.0" />
<text x="280.40" y="79.85" font-size="5.5" text-anchor="end" fill="#303030" stroke="#303030" stroke-width="0.08" textLength="7.80" lengthAdjust="spacingAndGlyphs" >100</text>
<line x1="283.30" y1="44.38" x2="286.30" y2="44.38" stroke="#1e1e1e" stroke-width="1.0" />
<text x="280.40" y="46.27" font-size="5.5" text-anchor="end" fill="#303030" stroke="#303030" stroke-width="0.08" textLength="7.80" lengthAdjust="spacingAndGlyphs" >150</text>
<line x1="286.30" y1="151.60" x2="286.30" y2="154.60" stroke="#1e1e1e" stroke-width="1.0" />
<text x="286.30" y="162.60" font-size="5.5" text-anchor="middle" fill="#303030" stroke="#303030" stroke-width="0.08" textLength="13.00" lengthAdjust="spacingAndGlyphs" >0.001</text>
<line x1="326.90" y1="151.60" x2="326.90" y2="154.60" stroke="#1e1e1e" stroke-width="1.0" />
<text x="326.90" y="162.60" font-size="5.5" text-anchor="middle" fill="#303030" stroke="#303030" stroke-width="0.08" textLength="10.50" lengthAdjust="spacingAndGlyphs" >0.01</text>
<line x1="367.50" y1="151.60" x2="367.50" y2="154.60" stroke="#1e1e1e" stroke-width="1.0" />
<text x="367.50" y="162.60" font-size="5.5" text-anchor="middle" fill="#303030" stroke="#303030" stroke-width="0.08" textLength="7.60" lengthAdjust="spacingAndGlyphs" >0.1</text>
<line x1="408.10" y1="151.60" x2="408.10" y2="154.60" stroke="#1e1e1e" stroke-width="1.0" />
<text x="408.10" y="162.60" font-size="5.5" text-anchor="middle" fill="#303030" stroke="#303030" stroke-width="0.08" textLength="2.40" lengthAdjust="spacingAndGlyphs" >1</text>
<line x1="448.70" y1="151.60" x2="448.70" y2="154.60" stroke="#1e1e1e" stroke-width="1.0" />
<text x="448.70" y="162.60" font-size="5.5" text-anchor="middle" fill="#303030" stroke="#303030" stroke-width="0.08" textLength="5.60" lengthAdjust="spacingAndGlyphs" >10</text>
<text x="369.00" y="173.00" font-size="6.8" text-anchor="middle" fill="#303030" textLength="76.50" lengthAdjust="spacingAndGlyphs" >AZD4573 concentration (μM)</text>
<text x="266.30" y="95.40" font-size="6.4" text-anchor="middle" fill="#303030" textLength="72.00" lengthAdjust="spacingAndGlyphs" transform="rotate(-90 266.30 95.40)" >Bfl-1 protein expression (%)</text>
<polyline points="291.58,77.85 291.98,77.86 292.39,77.89 292.80,77.91 293.20,77.93 293.61,77.96 294.01,77.98 294.42,78.01 294.83,78.04 295.23,78.07 295.64,78.11 296.04,78.14 296.45,78.18 296.86,78.22 297.26,78.27 297.67,78.31 298.07,78.36 298.48,78.41 298.89,78.47 299.29,78.53 299.70,78.59 300.10,78.65 300.51,78.72 300.92,78.80 301.32,78.88 301.73,78.96 302.13,79.05 302.54,79.15 302.95,79.25 303.35,79.35 303.76,79.47 304.16,79.59 304.57,79.71 304.98,79.85 305.38,79.99 305.79,80.14 306.19,80.30 306.60,80.47 307.01,80.65 307.41,80.84 307.82,81.04 308.22,81.26 308.63,81.48 309.04,81.72 309.44,81.98 309.85,82.24 310.25,82.53 310.66,82.83 311.07,83.14 311.47,83.47 311.88,83.83 312.28,84.20 312.69,84.59 313.10,85.00 313.50,85.43 313.91,85.89 314.31,86.37 314.72,86.87 315.13,87.40 315.53,87.96 315.94,88.54 316.34,89.15 316.75,89.79 317.16,90.46 317.56,91.16 317.97,91.89 318.37,92.65 318.78,93.44 319.19,94.26 319.59,95.12 320.00,96.01 320.40,96.92 320.81,97.87 321.22,98.85 321.62,99.86 322.03,100.90 322.43,101.97 322.84,103.06 323.25,104.18 323.65,105.32 324.06,106.48 324.46,107.66 324.87,108.86 325.28,110.06 325.68,111.28 326.09,112.50 326.49,113.72 326.90,114.95 327.31,116.16 327.71,117.37 328.12,118.56 328.52,119.73 328.93,120.88 329.34,122.01 329.74,123.11 330.15,124.17 330.55,125.19 330.96,126.17 331.37,127.11 331.77,128.01 332.18,128.86 332.58,129.66 332.99,130.41 333.40,131.11 333.80,131.76 334.21,132.36 334.61,132.91 335.02,133.41 335.43,133.87 335.83,134.28 336.24,134.65 336.64,134.98 337.05,135.27 337.46,135.53 337.86,135.76 338.27,135.96 338.67,136.14 339.08,136.28 339.49,136.41 339.89,136.52 340.30,136.62 340.70,136.69 341.11,136.76 341.52,136.82 341.92,136.86 342.33,136.90 342.73,136.93 343.14,136.96 343.55,136.98 343.95,136.99 344.36,137.01 344.76,137.02 345.17,137.03 345.58,137.04 345.98,137.04 346.39,137.05 346.79,137.05 347.20,137.05 347.61,137.05 348.01,137.06 348.42,137.06 348.82,137.06 349.23,137.06 349.64,137.06 350.04,137.06 350.45,137.06 350.85,137.06 351.26,137.06 351.67,137.06 352.07,137.06 352.48,137.06 352.88,137.06 353.29,137.06 353.70,137.06 354.10,137.06 354.51,137.06 354.91,137.06 355.32,137.06 355.73,137.06 356.13,137.06 356.54,137.06 356.94,137.06 357.35,137.06 357.76,137.06 358.16,137.06 358.57,137.06 358.97,137.06 359.38,137.06 359.79,137.06 360.19,137.06 360.60,137.06 361.00,137.06 361.41,137.06 361.82,137.06 362.22,137.06 362.63,137.06 363.03,137.06 363.44,137.06 363.85,137.06 364.25,137.06 364.66,137.06 365.06,137.06 365.47,137.06 365.88,137.06 366.28,137.06 366.69,137.06 367.09,137.06 367.50,137.06 367.91,137.06 368.31,137.06 368.72,137.06 369.12,137.06 369.53,137.06 369.94,137.06 370.34,137.06 370.75,137.06 371.15,137.06 371.56,137.06 371.97,137.06 372.37,137.06 372.78,137.06 373.18,137.06 373.59,137.06 374.00,137.06 374.40,137.06 374.81,137.06 375.21,137.06 375.62,137.06 376.03,137.06 376.43,137.06 376.84,137.06 377.24,137.06 377.65,137.06 378.06,137.06 378.46,137.06 378.87,137.06 379.27,137.06 379.68,137.06 380.09,137.06 380.49,137.06 380.90,137.06 381.30,137.06 381.71,137.06 382.12,137.06 382.52,137.06 382.93,137.06 383.33,137.06 383.74,137.06 384.15,137.06 384.55,137.06 384.96,137.06 385.36,137.06 385.77,137.06 386.18,137.06 386.58,137.06 386.99,137.06 387.39,137.06 387.80,137.06 388.21,137.06 388.61,137.06 389.02,137.06 389.42,137.06 389.83,137.06 390.24,137.06 390.64,137.06 391.05,137.06 391.45,137.06 391.86,137.06 392.27,137.06 392.67,137.06 393.08,137.06 393.48,137.06 393.89,137.06 394.30,137.06 394.70,137.06 395.11,137.06 395.51,137.06 395.92,137.06 396.33,137.06 396.73,137.06 397.14,137.06 397.54,137.06 397.95,137.06 398.36,137.06 398.76,137.06 399.17,137.06 399.57,137.06 399.98,137.06 400.39,137.06 400.79,137.06 401.20,137.06 401.60,137.06 402.01,137.06 402.42,137.06 402.82,137.06 403.23,137.06 403.63,137.06 404.04,137.06 404.45,137.06 404.85,137.06 405.26,137.06 405.66,137.06 406.07,137.06 406.48,137.06 406.88,137.06 407.29,137.06 407.69,137.06 408.10,137.06 408.51,137.06 408.91,137.06 409.32,137.06 409.72,137.06 410.13,137.06 410.54,137.06 410.94,137.06 411.35,137.06 411.75,137.06 412.16,137.06 412.57,137.06 412.97,137.06 413.38,137.06 413.78,137.06 414.19,137.06 414.60,137.06 415.00,137.06 415.41,137.06 415.81,137.06 416.22,137.06 416.63,137.06 417.03,137.06 417.44,137.06 417.84,137.06 418.25,137.06 418.66,137.06 419.06,137.06 419.47,137.06 419.87,137.06 420.28,137.06 420.69,137.06 421.09,137.06 421.50,137.06 421.90,137.06 422.31,137.06 422.72,137.06 423.12,137.06 423.53,137.06 423.93,137.06 424.34,137.06 424.75,137.06 425.15,137.06 425.56,137.06 425.96,137.06 426.37,137.06 426.78,137.06 427.18,137.06" fill="none" stroke="#a3032f" stroke-width="1.3" stroke-linejoin="round"/>
<line x1="291.58" y1="69.69" x2="291.58" y2="85.14" stroke="#a3032f" stroke-width="1.0" />
<line x1="289.98" y1="69.69" x2="293.18" y2="69.69" stroke="#a3032f" stroke-width="1.0" />
<line x1="289.98" y1="85.14" x2="293.18" y2="85.14" stroke="#a3032f" stroke-width="1.0" />
<circle cx="291.58" cy="77.41" r="1.7" fill="#a3032f"/>
<line x1="311.07" y1="76.27" x2="311.07" y2="90.37" stroke="#a3032f" stroke-width="1.0" />
<line x1="309.47" y1="76.27" x2="312.67" y2="76.27" stroke="#a3032f" stroke-width="1.0" />
<line x1="309.47" y1="90.37" x2="312.67" y2="90.37" stroke="#a3032f" stroke-width="1.0" />
<circle cx="311.07" cy="83.32" r="1.7" fill="#a3032f"/>
<circle cx="330.55" cy="124.28" r="1.7" fill="#a3032f"/>
<circle cx="350.04" cy="136.57" r="1.7" fill="#a3032f"/>
<circle cx="369.33" cy="136.17" r="1.7" fill="#a3032f"/>
<circle cx="388.61" cy="136.37" r="1.7" fill="#a3032f"/>
<circle cx="408.10" cy="136.97" r="1.7" fill="#a3032f"/>
<circle cx="427.47" cy="137.51" r="1.7" fill="#a3032f"/>
<line x1="148.60" y1="318.50" x2="310.20" y2="318.50" stroke="#2a2a2a" stroke-width="1.0" stroke-dasharray="1 1"/>
<line x1="148.60" y1="234.60" x2="148.60" y2="346.30" stroke="#1e1e1e" stroke-width="1.5" />
<line x1="148.00" y1="345.70" x2="311.80" y2="345.70" stroke="#1e1e1e" stroke-width="1.5" />
<polyline points="148.60,291.40 181.25,279.20 213.90,281.00 246.55,275.90 279.20,293.40" fill="none" stroke="#5aa6e4" stroke-width="1.2" stroke-linejoin="round"/>
<circle cx="148.60" cy="291.40" r="1.5" fill="#5aa6e4"/>
<circle cx="181.25" cy="279.20" r="1.5" fill="#5aa6e4"/>
<circle cx="213.90" cy="281.00" r="1.5" fill="#5aa6e4"/>
<circle cx="246.55" cy="275.90" r="1.5" fill="#5aa6e4"/>
<circle cx="279.20" cy="293.40" r="1.5" fill="#5aa6e4"/>
<polyline points="148.60,291.40 181.25,287.00 213.90,291.00 246.55,290.40 279.20,288.10" fill="none" stroke="#8f86c8" stroke-width="1.2" stroke-linejoin="round"/>
<rect x="147.10" y="289.90" width="3.00" height="3.00" fill="#8f86c8"/>
<rect x="179.75" y="285.50" width="3.00" height="3.00" fill="#8f86c8"/>
<rect x="212.40" y="289.50" width="3.00" height="3.00" fill="#8f86c8"/>
<rect x="245.05" y="288.90" width="3.00" height="3.00" fill="#8f86c8"/>
<rect x="277.70" y="286.60" width="3.00" height="3.00" fill="#8f86c8"/>
<polyline points="148.60,291.40 181.25,287.70 213.90,294.80 246.55,291.10 279.20,292.90" fill="none" stroke="#4b1a5c" stroke-width="1.2" stroke-linejoin="round"/>
<path d="M148.60 289.45L150.55 292.86L146.65 292.86Z" fill="#4b1a5c"/>
<path d="M181.25 285.75L183.20 289.16L179.30 289.16Z" fill="#4b1a5c"/>
<path d="M213.90 292.85L215.85 296.26L211.95 296.26Z" fill="#4b1a5c"/>
<path d="M246.55 289.15L248.50 292.56L244.60 292.56Z" fill="#4b1a5c"/>
<path d="M279.20 290.95L281.15 294.36L277.25 294.36Z" fill="#4b1a5c"/>
<polyline points="148.60,291.40 181.25,333.10 213.90,342.30 246.55,343.50 279.20,343.50" fill="none" stroke="#a3032f" stroke-width="1.2" stroke-linejoin="round"/>
<rect x="146.85" y="289.65" width="3.50" height="3.50" fill="#a3032f"/>
<rect x="179.50" y="331.35" width="3.50" height="3.50" fill="#a3032f"/>
<rect x="212.15" y="340.55" width="3.50" height="3.50" fill="#a3032f"/>
<rect x="244.80" y="341.75" width="3.50" height="3.50" fill="#a3032f"/>
<rect x="277.45" y="341.75" width="3.50" height="3.50" fill="#a3032f"/>
<polyline points="148.60,291.40 181.25,317.80 213.90,333.70 246.55,340.00 279.20,341.30" fill="none" stroke="#264a88" stroke-width="1.2" stroke-linejoin="round"/>
<circle cx="148.60" cy="291.40" r="1.75" fill="#264a88"/>
<circle cx="181.25" cy="317.80" r="1.75" fill="#264a88"/>
<circle cx="213.90" cy="333.70" r="1.75" fill="#264a88"/>
<circle cx="246.55" cy="340.00" r="1.75" fill="#264a88"/>
<circle cx="279.20" cy="341.30" r="1.75" fill="#264a88"/>
<line x1="145.60" y1="345.60" x2="148.60" y2="345.60" stroke="#1e1e1e" stroke-width="1.1" />
<text x="142.80" y="347.50" font-size="5.4" text-anchor="end" fill="#303030" stroke="#303030" stroke-width="0.08" textLength="2.85" lengthAdjust="spacingAndGlyphs" >0</text>
<line x1="145.60" y1="318.49" x2="148.60" y2="318.49" stroke="#1e1e1e" stroke-width="1.1" />
<text x="142.80" y="320.39" font-size="5.4" text-anchor="end" fill="#303030" stroke="#303030" stroke-width="0.08" textLength="5.70" lengthAdjust="spacingAndGlyphs" >50</text>
<line x1="145.60" y1="291.38" x2="148.60" y2="291.38" stroke="#1e1e1e" stroke-width="1.1" />
<text x="142.80" y="293.28" font-size="5.4" text-anchor="end" fill="#303030" stroke="#303030" stroke-width="0.08" textLength="8.55" lengthAdjust="spacingAndGlyphs" >100</text>
<line x1="145.60" y1="264.27" x2="148.60" y2="264.27" stroke="#1e1e1e" stroke-width="1.1" />
<text x="142.80" y="266.17" font-size="5.4" text-anchor="end" fill="#303030" stroke="#303030" stroke-width="0.08" textLength="8.55" lengthAdjust="spacingAndGlyphs" >150</text>
<line x1="145.60" y1="237.16" x2="148.60" y2="237.16" stroke="#1e1e1e" stroke-width="1.1" />
<text x="142.80" y="239.06" font-size="5.4" text-anchor="end" fill="#303030" stroke="#303030" stroke-width="0.08" textLength="8.55" lengthAdjust="spacingAndGlyphs" >200</text>
<line x1="148.60" y1="345.20" x2="148.60" y2="348.00" stroke="#1e1e1e" stroke-width="1.0" />
<text x="148.60" y="356.30" font-size="5.4" text-anchor="middle" fill="#303030" stroke="#303030" stroke-width="0.08" textLength="2.80" lengthAdjust="spacingAndGlyphs" >0</text>
<line x1="181.25" y1="345.20" x2="181.25" y2="348.00" stroke="#1e1e1e" stroke-width="1.0" />
<text x="181.25" y="356.30" font-size="5.4" text-anchor="middle" fill="#303030" stroke="#303030" stroke-width="0.08" textLength="2.80" lengthAdjust="spacingAndGlyphs" >1</text>
<line x1="213.90" y1="345.20" x2="213.90" y2="348.00" stroke="#1e1e1e" stroke-width="1.0" />
<text x="213.90" y="356.30" font-size="5.4" text-anchor="middle" fill="#303030" stroke="#303030" stroke-width="0.08" textLength="2.80" lengthAdjust="spacingAndGlyphs" >3</text>
<line x1="246.55" y1="345.20" x2="246.55" y2="348.00" stroke="#1e1e1e" stroke-width="1.0" />
<text x="246.55" y="356.30" font-size="5.4" text-anchor="middle" fill="#303030" stroke="#303030" stroke-width="0.08" textLength="2.80" lengthAdjust="spacingAndGlyphs" >6</text>
<line x1="279.20" y1="345.20" x2="279.20" y2="348.00" stroke="#1e1e1e" stroke-width="1.0" />
<text x="279.20" y="356.30" font-size="5.4" text-anchor="middle" fill="#303030" stroke="#303030" stroke-width="0.08" textLength="2.80" lengthAdjust="spacingAndGlyphs" >9</text>
<text x="230.80" y="367.00" font-size="7.2" text-anchor="middle" fill="#303030" textLength="92.00" lengthAdjust="spacingAndGlyphs" >Cycloheximide treatment length (h)</text>
<text x="128.20" y="290.00" font-size="6.6" text-anchor="middle" fill="#303030" textLength="80.00" lengthAdjust="spacingAndGlyphs" transform="rotate(-90 128.20 290.00)" >Relative protein expression (%)</text>
<line x1="154.10" y1="239.50" x2="161.90" y2="239.50" stroke="#a3032f" stroke-width="1.2" />
<ellipse cx="158.0" cy="239.50" rx="2.5" ry="1.7" fill="#a3032f"/>
<text x="164.50" y="241.20" font-size="4.8" text-anchor="start" fill="#4a4a4a" textLength="9.00" lengthAdjust="spacingAndGlyphs" >Bfl-1</text>
<line x1="154.10" y1="246.90" x2="161.90" y2="246.90" stroke="#264a88" stroke-width="1.2" />
<path d="M155.6 246.90L158 245.00L160.4 246.90L158 248.80Z" fill="#264a88"/>
<text x="164.50" y="248.60" font-size="4.8" text-anchor="start" fill="#4a4a4a" textLength="11.00" lengthAdjust="spacingAndGlyphs" >Mcl-1</text>
<line x1="154.10" y1="254.60" x2="161.90" y2="254.60" stroke="#4b1a5c" stroke-width="1.2" />
<path d="M156 254.60L158 253.10L160 254.60L158 256.10Z" fill="#4b1a5c"/>
<text x="164.50" y="256.30" font-size="4.8" text-anchor="start" fill="#4a4a4a" textLength="9.50" lengthAdjust="spacingAndGlyphs" >Bcl-2</text>
<line x1="154.10" y1="261.70" x2="161.90" y2="261.70" stroke="#8f86c8" stroke-width="1.2" />
<rect x="156.4" y="260.10" width="3.2" height="3.2" fill="#8f86c8" fill-opacity="0.85"/>
<text x="164.50" y="263.40" font-size="4.8" text-anchor="start" fill="#4a4a4a" textLength="11.50" lengthAdjust="spacingAndGlyphs" >Bcl-xL</text>
<line x1="154.10" y1="269.50" x2="161.90" y2="269.50" stroke="#5aa6e4" stroke-width="1.2" />
<circle cx="158.0" cy="269.50" r="1.3" fill="#5aa6e4"/>
<text x="164.50" y="271.20" font-size="4.8" text-anchor="start" fill="#4a4a4a" textLength="10.50" lengthAdjust="spacingAndGlyphs" >Bcl-w</text>
<line x1="347.90" y1="302.50" x2="510.50" y2="302.50" stroke="#2a2a2a" stroke-width="1.0" stroke-dasharray="1 1"/>
<line x1="347.90" y1="235.40" x2="347.90" y2="346.20" stroke="#1e1e1e" stroke-width="1.5" />
<line x1="347.30" y1="345.60" x2="512.50" y2="345.60" stroke="#1e1e1e" stroke-width="1.5" />
<polyline points="347.90,259.40 361.40,269.70 374.90,290.10 401.90,310.10 455.90,314.50 509.90,336.60" fill="none" stroke="#a3032f" stroke-width="1.2" stroke-linejoin="round"/>
<path d="M347.90 257.45L349.85 260.86L345.95 260.86Z" fill="#a3032f"/>
<path d="M361.40 267.75L363.35 271.16L359.45 271.16Z" fill="#a3032f"/>
<path d="M374.90 288.15L376.85 291.56L372.95 291.56Z" fill="#a3032f"/>
<path d="M401.90 308.15L403.85 311.56L399.95 311.56Z" fill="#a3032f"/>
<path d="M455.90 312.55L457.85 315.96L453.95 315.96Z" fill="#a3032f"/>
<path d="M509.90 334.65L511.85 338.06L507.95 338.06Z" fill="#a3032f"/>
<polyline points="347.90,271.00 361.40,303.40 374.90,317.30 401.90,316.40 455.90,333.60 509.90,342.40" fill="none" stroke="#e8931f" stroke-width="1.2" stroke-linejoin="round"/>
<path d="M347.90 269.12L349.77 271.00L347.90 272.88L346.02 271.00Z" fill="#e8931f"/>
<path d="M361.40 301.52L363.27 303.40L361.40 305.27L359.52 303.40Z" fill="#e8931f"/>
<path d="M374.90 315.43L376.77 317.30L374.90 319.18L373.02 317.30Z" fill="#e8931f"/>
<path d="M401.90 314.52L403.77 316.40L401.90 318.27L400.02 316.40Z" fill="#e8931f"/>
<path d="M455.90 331.73L457.77 333.60L455.90 335.48L454.02 333.60Z" fill="#e8931f"/>
<path d="M509.90 340.52L511.77 342.40L509.90 344.27L508.02 342.40Z" fill="#e8931f"/>
<polyline points="347.90,259.40 361.40,329.20 374.90,334.30 401.90,334.30 455.90,339.00 509.90,339.70" fill="none" stroke="#5cab3e" stroke-width="1.2" stroke-linejoin="round"/>
<circle cx="347.90" cy="259.40" r="1.7" fill="#5cab3e"/>
<circle cx="361.40" cy="329.20" r="1.7" fill="#5cab3e"/>
<circle cx="374.90" cy="334.30" r="1.7" fill="#5cab3e"/>
<circle cx="401.90" cy="334.30" r="1.7" fill="#5cab3e"/>
<circle cx="455.90" cy="339.00" r="1.7" fill="#5cab3e"/>
<circle cx="509.90" cy="339.70" r="1.7" fill="#5cab3e"/>
<line x1="345.10" y1="345.50" x2="347.90" y2="345.50" stroke="#1e1e1e" stroke-width="1.0" />
<text x="342.20" y="347.40" font-size="5.5" text-anchor="end" fill="#303030" stroke="#303030" stroke-width="0.08" textLength="2.60" lengthAdjust="spacingAndGlyphs" >0</text>
<line x1="345.10" y1="323.98" x2="347.90" y2="323.98" stroke="#1e1e1e" stroke-width="1.0" />
<text x="342.20" y="325.88" font-size="5.5" text-anchor="end" fill="#303030" stroke="#303030" stroke-width="0.08" textLength="5.20" lengthAdjust="spacingAndGlyphs" >25</text>
<line x1="345.10" y1="302.45" x2="347.90" y2="302.45" stroke="#1e1e1e" stroke-width="1.0" />
<text x="342.20" y="304.35" font-size="5.5" text-anchor="end" fill="#303030" stroke="#303030" stroke-width="0.08" textLength="5.20" lengthAdjust="spacingAndGlyphs" >50</text>
<line x1="345.10" y1="280.93" x2="347.90" y2="280.93" stroke="#1e1e1e" stroke-width="1.0" />
<text x="342.20" y="282.82" font-size="5.5" text-anchor="end" fill="#303030" stroke="#303030" stroke-width="0.08" textLength="5.20" lengthAdjust="spacingAndGlyphs" >75</text>
<line x1="345.10" y1="259.40" x2="347.90" y2="259.40" stroke="#1e1e1e" stroke-width="1.0" />
<text x="342.20" y="261.30" font-size="5.5" text-anchor="end" fill="#303030" stroke="#303030" stroke-width="0.08" textLength="7.80" lengthAdjust="spacingAndGlyphs" >100</text>
<line x1="345.10" y1="237.88" x2="347.90" y2="237.88" stroke="#1e1e1e" stroke-width="1.0" />
<text x="342.20" y="239.78" font-size="5.5" text-anchor="end" fill="#303030" stroke="#303030" stroke-width="0.08" textLength="7.80" lengthAdjust="spacingAndGlyphs" >125</text>
<line x1="347.90" y1="345.20" x2="347.90" y2="348.00" stroke="#1e1e1e" stroke-width="1.0" />
<text x="347.90" y="356.30" font-size="5.2" text-anchor="middle" fill="#303030" stroke="#303030" stroke-width="0.08" textLength="2.70" lengthAdjust="spacingAndGlyphs" >0</text>
<line x1="374.90" y1="345.20" x2="374.90" y2="348.00" stroke="#1e1e1e" stroke-width="1.0" />
<text x="374.90" y="356.30" font-size="5.2" text-anchor="middle" fill="#303030" stroke="#303030" stroke-width="0.08" textLength="2.70" lengthAdjust="spacingAndGlyphs" >1</text>
<line x1="401.90" y1="345.20" x2="401.90" y2="348.00" stroke="#1e1e1e" stroke-width="1.0" />
<text x="401.90" y="356.30" font-size="5.2" text-anchor="middle" fill="#303030" stroke="#303030" stroke-width="0.08" textLength="2.70" lengthAdjust="spacingAndGlyphs" >2</text>
<line x1="428.90" y1="345.20" x2="428.90" y2="348.00" stroke="#1e1e1e" stroke-width="1.0" />
<text x="428.90" y="356.30" font-size="5.2" text-anchor="middle" fill="#303030" stroke="#303030" stroke-width="0.08" textLength="2.70" lengthAdjust="spacingAndGlyphs" >3</text>
<line x1="455.90" y1="345.20" x2="455.90" y2="348.00" stroke="#1e1e1e" stroke-width="1.0" />
<text x="455.90" y="356.30" font-size="5.2" text-anchor="middle" fill="#303030" stroke="#303030" stroke-width="0.08" textLength="2.70" lengthAdjust="spacingAndGlyphs" >4</text>
<line x1="482.90" y1="345.20" x2="482.90" y2="348.00" stroke="#1e1e1e" stroke-width="1.0" />
<text x="482.90" y="356.30" font-size="5.2" text-anchor="middle" fill="#303030" stroke="#303030" stroke-width="0.08" textLength="2.70" lengthAdjust="spacingAndGlyphs" >5</text>
<line x1="509.90" y1="345.20" x2="509.90" y2="348.00" stroke="#1e1e1e" stroke-width="1.0" />
<text x="509.90" y="356.30" font-size="5.2" text-anchor="middle" fill="#303030" stroke="#303030" stroke-width="0.08" textLength="2.70" lengthAdjust="spacingAndGlyphs" >6</text>
<text x="430.90" y="366.80" font-size="7.2" text-anchor="middle" fill="#303030" textLength="74.40" lengthAdjust="spacingAndGlyphs" >AZD4573 treatment time (h)</text>
<text x="328.30" y="290.20" font-size="6.6" text-anchor="middle" fill="#303030" textLength="60.50" lengthAdjust="spacingAndGlyphs" transform="rotate(-90 328.30 290.20)" >Relative expression (%)</text>
<line x1="460.60" y1="237.80" x2="467.80" y2="237.80" stroke="#5cab3e" stroke-width="1.2" />
<circle cx="464.20" cy="237.80" r="1.75" fill="#5cab3e"/>
<text x="471.00" y="239.40" font-size="4.6" text-anchor="start" fill="#4a4a4a" textLength="30.90" lengthAdjust="spacingAndGlyphs" >% pSer2-RNAP2</text>
<line x1="460.60" y1="246.30" x2="467.80" y2="246.30" stroke="#e8931f" stroke-width="1.2" />
<path d="M464.20 244.43L466.07 246.30L464.20 248.18L462.32 246.30Z" fill="#e8931f"/>
<text x="471.00" y="247.90" font-size="4.6" text-anchor="start" fill="#4a4a4a" textLength="33.80" lengthAdjust="spacingAndGlyphs" >% BCL2A1 mRNA</text>
<line x1="460.60" y1="255.00" x2="467.80" y2="255.00" stroke="#a3032f" stroke-width="1.2" />
<path d="M464.20 253.05L466.15 256.46L462.25 256.46Z" fill="#a3032f"/>
<text x="471.00" y="256.60" font-size="4.6" text-anchor="start" fill="#4a4a4a" textLength="28.00" lengthAdjust="spacingAndGlyphs" >% Bfl-1 Protein</text>
<line x1="45.30" y1="452.50" x2="363.50" y2="452.50" stroke="#2a2a2a" stroke-width="1.0" stroke-dasharray="1 1"/>
<line x1="50.50" y1="463.20" x2="50.50" y2="459.49" stroke="#c7c6cb" stroke-width="0.9" />
<line x1="49.20" y1="459.49" x2="51.80" y2="459.49" stroke="#c7c6cb" stroke-width="0.9" />
<rect x="48.10" y="463.20" width="4.80" height="39.19" fill="#c7c6cb" />
<line x1="50.50" y1="502.00" x2="50.50" y2="505.30" stroke="#1e1e1e" stroke-width="0.9" />
<text x="53.20" y="512.00" font-size="5.6" text-anchor="end" fill="#303030" textLength="2.80" lengthAdjust="spacingAndGlyphs" transform="rotate(-50 53.20 512.00)" >0</text>
<line x1="57.50" y1="461.80" x2="57.50" y2="458.28" stroke="#c7c6cb" stroke-width="0.9" />
<line x1="56.20" y1="458.28" x2="58.80" y2="458.28" stroke="#c7c6cb" stroke-width="0.9" />
<rect x="55.10" y="461.80" width="4.80" height="40.60" fill="#c7c6cb" />
<line x1="57.50" y1="502.00" x2="57.50" y2="505.30" stroke="#1e1e1e" stroke-width="0.9" />
<text x="60.20" y="512.00" font-size="5.6" text-anchor="end" fill="#303030" textLength="5.60" lengthAdjust="spacingAndGlyphs" transform="rotate(-50 60.20 512.00)" >16</text>
<line x1="64.50" y1="463.20" x2="64.50" y2="459.99" stroke="#c7c6cb" stroke-width="0.9" />
<line x1="63.20" y1="459.99" x2="65.80" y2="459.99" stroke="#c7c6cb" stroke-width="0.9" />
<rect x="62.10" y="463.20" width="4.80" height="39.19" fill="#c7c6cb" />
<line x1="64.50" y1="502.00" x2="64.50" y2="505.30" stroke="#1e1e1e" stroke-width="0.9" />
<text x="67.20" y="512.00" font-size="5.6" text-anchor="end" fill="#303030" textLength="5.60" lengthAdjust="spacingAndGlyphs" transform="rotate(-50 67.20 512.00)" >32</text>
<line x1="71.50" y1="433.05" x2="71.50" y2="429.74" stroke="#c7c6cb" stroke-width="0.9" />
<line x1="70.20" y1="429.74" x2="72.80" y2="429.74" stroke="#c7c6cb" stroke-width="0.9" />
<rect x="69.10" y="433.05" width="4.80" height="69.34" fill="#c7c6cb" />
<line x1="71.50" y1="502.00" x2="71.50" y2="505.30" stroke="#1e1e1e" stroke-width="0.9" />
<text x="74.20" y="512.00" font-size="5.6" text-anchor="end" fill="#303030" textLength="5.60" lengthAdjust="spacingAndGlyphs" transform="rotate(-50 74.20 512.00)" >63</text>
<line x1="78.50" y1="406.92" x2="78.50" y2="405.42" stroke="#c7c6cb" stroke-width="0.9" />
<line x1="77.20" y1="405.42" x2="79.80" y2="405.42" stroke="#c7c6cb" stroke-width="0.9" />
<rect x="76.10" y="406.92" width="4.80" height="95.47" fill="#c7c6cb" />
<line x1="78.50" y1="502.00" x2="78.50" y2="505.30" stroke="#1e1e1e" stroke-width="0.9" />
<text x="81.20" y="512.00" font-size="5.6" text-anchor="end" fill="#303030" textLength="8.40" lengthAdjust="spacingAndGlyphs" transform="rotate(-50 81.20 512.00)" >125</text>
<rect x="83.10" y="406.92" width="4.80" height="95.47" fill="#c7c6cb" />
<line x1="85.50" y1="502.00" x2="85.50" y2="505.30" stroke="#1e1e1e" stroke-width="0.9" />
<text x="88.20" y="512.00" font-size="5.6" text-anchor="end" fill="#303030" textLength="8.40" lengthAdjust="spacingAndGlyphs" transform="rotate(-50 88.20 512.00)" >250</text>
<rect x="90.10" y="407.93" width="4.80" height="94.47" fill="#c7c6cb" />
<line x1="92.50" y1="502.00" x2="92.50" y2="505.30" stroke="#1e1e1e" stroke-width="0.9" />
<text x="95.20" y="512.00" font-size="5.6" text-anchor="end" fill="#303030" textLength="8.40" lengthAdjust="spacingAndGlyphs" transform="rotate(-50 95.20 512.00)" >500</text>
<line x1="103.62" y1="477.88" x2="103.62" y2="474.06" stroke="#a3032f" stroke-width="0.9" />
<line x1="102.32" y1="474.06" x2="104.92" y2="474.06" stroke="#a3032f" stroke-width="0.9" />
<rect x="101.22" y="477.88" width="4.80" height="24.52" fill="#a3032f" />
<line x1="103.62" y1="502.00" x2="103.62" y2="505.30" stroke="#1e1e1e" stroke-width="0.9" />
<text x="106.32" y="512.00" font-size="5.6" text-anchor="end" fill="#303030" textLength="2.80" lengthAdjust="spacingAndGlyphs" transform="rotate(-50 106.32 512.00)" >0</text>
<line x1="110.62" y1="475.16" x2="110.62" y2="474.26" stroke="#a3032f" stroke-width="0.9" />
<line x1="109.32" y1="474.26" x2="111.92" y2="474.26" stroke="#a3032f" stroke-width="0.9" />
<rect x="108.22" y="475.16" width="4.80" height="27.24" fill="#a3032f" />
<line x1="110.62" y1="502.00" x2="110.62" y2="505.30" stroke="#1e1e1e" stroke-width="0.9" />
<text x="113.32" y="512.00" font-size="5.6" text-anchor="end" fill="#303030" textLength="5.60" lengthAdjust="spacingAndGlyphs" transform="rotate(-50 113.32 512.00)" >16</text>
<line x1="117.62" y1="479.28" x2="117.62" y2="476.97" stroke="#a3032f" stroke-width="0.9" />
<line x1="116.32" y1="476.97" x2="118.92" y2="476.97" stroke="#a3032f" stroke-width="0.9" />
<rect x="115.22" y="479.28" width="4.80" height="23.11" fill="#a3032f" />
<line x1="117.62" y1="502.00" x2="117.62" y2="505.30" stroke="#1e1e1e" stroke-width="0.9" />
<text x="120.32" y="512.00" font-size="5.6" text-anchor="end" fill="#303030" textLength="5.60" lengthAdjust="spacingAndGlyphs" transform="rotate(-50 120.32 512.00)" >32</text>
<line x1="124.62" y1="473.46" x2="124.62" y2="469.03" stroke="#a3032f" stroke-width="0.9" />
<line x1="123.32" y1="469.03" x2="125.92" y2="469.03" stroke="#a3032f" stroke-width="0.9" />
<rect x="122.22" y="473.46" width="4.80" height="28.94" fill="#a3032f" />
<line x1="124.62" y1="502.00" x2="124.62" y2="505.30" stroke="#1e1e1e" stroke-width="0.9" />
<text x="127.32" y="512.00" font-size="5.6" text-anchor="end" fill="#303030" textLength="5.60" lengthAdjust="spacingAndGlyphs" transform="rotate(-50 127.32 512.00)" >63</text>
<line x1="131.62" y1="450.94" x2="131.62" y2="444.81" stroke="#a3032f" stroke-width="0.9" />
<line x1="130.32" y1="444.81" x2="132.92" y2="444.81" stroke="#a3032f" stroke-width="0.9" />
<rect x="129.22" y="450.94" width="4.80" height="51.46" fill="#a3032f" />
<line x1="131.62" y1="502.00" x2="131.62" y2="505.30" stroke="#1e1e1e" stroke-width="0.9" />
<text x="134.32" y="512.00" font-size="5.6" text-anchor="end" fill="#303030" textLength="8.40" lengthAdjust="spacingAndGlyphs" transform="rotate(-50 134.32 512.00)" >125</text>
<line x1="138.62" y1="424.41" x2="138.62" y2="420.89" stroke="#a3032f" stroke-width="0.9" />
<line x1="137.32" y1="420.89" x2="139.92" y2="420.89" stroke="#a3032f" stroke-width="0.9" />
<rect x="136.22" y="424.41" width="4.80" height="77.99" fill="#a3032f" />
<line x1="138.62" y1="502.00" x2="138.62" y2="505.30" stroke="#1e1e1e" stroke-width="0.9" />
<text x="141.32" y="512.00" font-size="5.6" text-anchor="end" fill="#303030" textLength="8.40" lengthAdjust="spacingAndGlyphs" transform="rotate(-50 141.32 512.00)" >250</text>
<line x1="145.62" y1="436.47" x2="145.62" y2="434.06" stroke="#a3032f" stroke-width="0.9" />
<line x1="144.32" y1="434.06" x2="146.92" y2="434.06" stroke="#a3032f" stroke-width="0.9" />
<rect x="143.22" y="436.47" width="4.80" height="65.93" fill="#a3032f" />
<line x1="145.62" y1="502.00" x2="145.62" y2="505.30" stroke="#1e1e1e" stroke-width="0.9" />
<text x="148.32" y="512.00" font-size="5.6" text-anchor="end" fill="#303030" textLength="8.40" lengthAdjust="spacingAndGlyphs" transform="rotate(-50 148.32 512.00)" >500</text>
<line x1="156.74" y1="486.02" x2="156.74" y2="482.50" stroke="#264a88" stroke-width="0.9" />
<line x1="155.44" y1="482.50" x2="158.04" y2="482.50" stroke="#264a88" stroke-width="0.9" />
<rect x="154.34" y="486.02" width="4.80" height="16.38" fill="#264a88" />
<line x1="156.74" y1="502.00" x2="156.74" y2="505.30" stroke="#1e1e1e" stroke-width="0.9" />
<text x="159.44" y="512.00" font-size="5.6" text-anchor="end" fill="#303030" textLength="2.80" lengthAdjust="spacingAndGlyphs" transform="rotate(-50 159.44 512.00)" >0</text>
<line x1="163.74" y1="480.19" x2="163.74" y2="471.95" stroke="#264a88" stroke-width="0.9" />
<line x1="162.44" y1="471.95" x2="165.04" y2="471.95" stroke="#264a88" stroke-width="0.9" />
<rect x="161.34" y="480.19" width="4.80" height="22.21" fill="#264a88" />
<line x1="163.74" y1="502.00" x2="163.74" y2="505.30" stroke="#1e1e1e" stroke-width="0.9" />
<text x="166.44" y="512.00" font-size="5.6" text-anchor="end" fill="#303030" textLength="5.60" lengthAdjust="spacingAndGlyphs" transform="rotate(-50 166.44 512.00)" >16</text>
<line x1="170.74" y1="483.71" x2="170.74" y2="476.97" stroke="#264a88" stroke-width="0.9" />
<line x1="169.44" y1="476.97" x2="172.04" y2="476.97" stroke="#264a88" stroke-width="0.9" />
<rect x="168.34" y="483.71" width="4.80" height="18.69" fill="#264a88" />
<line x1="170.74" y1="502.00" x2="170.74" y2="505.30" stroke="#1e1e1e" stroke-width="0.9" />
<text x="173.44" y="512.00" font-size="5.6" text-anchor="end" fill="#303030" textLength="5.60" lengthAdjust="spacingAndGlyphs" transform="rotate(-50 173.44 512.00)" >32</text>
<line x1="177.74" y1="480.19" x2="177.74" y2="472.35" stroke="#264a88" stroke-width="0.9" />
<line x1="176.44" y1="472.35" x2="179.04" y2="472.35" stroke="#264a88" stroke-width="0.9" />
<rect x="175.34" y="480.19" width="4.80" height="22.21" fill="#264a88" />
<line x1="177.74" y1="502.00" x2="177.74" y2="505.30" stroke="#1e1e1e" stroke-width="0.9" />
<text x="180.44" y="512.00" font-size="5.6" text-anchor="end" fill="#303030" textLength="5.60" lengthAdjust="spacingAndGlyphs" transform="rotate(-50 180.44 512.00)" >63</text>
<line x1="184.74" y1="451.04" x2="184.74" y2="444.31" stroke="#264a88" stroke-width="0.9" />
<line x1="183.44" y1="444.31" x2="186.04" y2="444.31" stroke="#264a88" stroke-width="0.9" />
<rect x="182.34" y="451.04" width="4.80" height="51.36" fill="#264a88" />
<line x1="184.74" y1="502.00" x2="184.74" y2="505.30" stroke="#1e1e1e" stroke-width="0.9" />
<text x="187.44" y="512.00" font-size="5.6" text-anchor="end" fill="#303030" textLength="8.40" lengthAdjust="spacingAndGlyphs" transform="rotate(-50 187.44 512.00)" >125</text>
<rect x="189.34" y="453.86" width="4.80" height="48.54" fill="#264a88" />
<line x1="191.74" y1="502.00" x2="191.74" y2="505.30" stroke="#1e1e1e" stroke-width="0.9" />
<text x="194.44" y="512.00" font-size="5.6" text-anchor="end" fill="#303030" textLength="8.40" lengthAdjust="spacingAndGlyphs" transform="rotate(-50 194.44 512.00)" >250</text>
<rect x="196.34" y="471.55" width="4.80" height="30.85" fill="#264a88" />
<line x1="198.74" y1="502.00" x2="198.74" y2="505.30" stroke="#1e1e1e" stroke-width="0.9" />
<text x="201.44" y="512.00" font-size="5.6" text-anchor="end" fill="#303030" textLength="8.40" lengthAdjust="spacingAndGlyphs" transform="rotate(-50 201.44 512.00)" >500</text>
<line x1="209.86" y1="495.57" x2="209.86" y2="491.95" stroke="#4b1a5c" stroke-width="0.9" />
<line x1="208.56" y1="491.95" x2="211.16" y2="491.95" stroke="#4b1a5c" stroke-width="0.9" />
<rect x="207.46" y="495.57" width="4.80" height="6.83" fill="#4b1a5c" />
<line x1="209.86" y1="502.00" x2="209.86" y2="505.30" stroke="#1e1e1e" stroke-width="0.9" />
<text x="212.56" y="512.00" font-size="5.6" text-anchor="end" fill="#303030" textLength="2.80" lengthAdjust="spacingAndGlyphs" transform="rotate(-50 212.56 512.00)" >0</text>
<line x1="216.86" y1="493.05" x2="216.86" y2="488.43" stroke="#4b1a5c" stroke-width="0.9" />
<line x1="215.56" y1="488.43" x2="218.16" y2="488.43" stroke="#4b1a5c" stroke-width="0.9" />
<rect x="214.46" y="493.05" width="4.80" height="9.35" fill="#4b1a5c" />
<line x1="216.86" y1="502.00" x2="216.86" y2="505.30" stroke="#1e1e1e" stroke-width="0.9" />
<text x="219.56" y="512.00" font-size="5.6" text-anchor="end" fill="#303030" textLength="5.60" lengthAdjust="spacingAndGlyphs" transform="rotate(-50 219.56 512.00)" >16</text>
<line x1="223.86" y1="495.57" x2="223.86" y2="492.55" stroke="#4b1a5c" stroke-width="0.9" />
<line x1="222.56" y1="492.55" x2="225.16" y2="492.55" stroke="#4b1a5c" stroke-width="0.9" />
<rect x="221.46" y="495.57" width="4.80" height="6.83" fill="#4b1a5c" />
<line x1="223.86" y1="502.00" x2="223.86" y2="505.30" stroke="#1e1e1e" stroke-width="0.9" />
<text x="226.56" y="512.00" font-size="5.6" text-anchor="end" fill="#303030" textLength="5.60" lengthAdjust="spacingAndGlyphs" transform="rotate(-50 226.56 512.00)" >32</text>
<line x1="230.86" y1="495.87" x2="230.86" y2="493.05" stroke="#4b1a5c" stroke-width="0.9" />
<line x1="229.56" y1="493.05" x2="232.16" y2="493.05" stroke="#4b1a5c" stroke-width="0.9" />
<rect x="228.46" y="495.87" width="4.80" height="6.53" fill="#4b1a5c" />
<line x1="230.86" y1="502.00" x2="230.86" y2="505.30" stroke="#1e1e1e" stroke-width="0.9" />
<text x="233.56" y="512.00" font-size="5.6" text-anchor="end" fill="#303030" textLength="5.60" lengthAdjust="spacingAndGlyphs" transform="rotate(-50 233.56 512.00)" >63</text>
<line x1="237.86" y1="489.84" x2="237.86" y2="483.71" stroke="#4b1a5c" stroke-width="0.9" />
<line x1="236.56" y1="483.71" x2="239.16" y2="483.71" stroke="#4b1a5c" stroke-width="0.9" />
<rect x="235.46" y="489.84" width="4.80" height="12.56" fill="#4b1a5c" />
<line x1="237.86" y1="502.00" x2="237.86" y2="505.30" stroke="#1e1e1e" stroke-width="0.9" />
<text x="240.56" y="512.00" font-size="5.6" text-anchor="end" fill="#303030" textLength="8.40" lengthAdjust="spacingAndGlyphs" transform="rotate(-50 240.56 512.00)" >125</text>
<rect x="242.46" y="476.77" width="4.80" height="25.63" fill="#4b1a5c" />
<line x1="244.86" y1="502.00" x2="244.86" y2="505.30" stroke="#1e1e1e" stroke-width="0.9" />
<text x="247.56" y="512.00" font-size="5.6" text-anchor="end" fill="#303030" textLength="8.40" lengthAdjust="spacingAndGlyphs" transform="rotate(-50 247.56 512.00)" >250</text>
<rect x="249.46" y="472.95" width="4.80" height="29.45" fill="#4b1a5c" />
<line x1="251.86" y1="502.00" x2="251.86" y2="505.30" stroke="#1e1e1e" stroke-width="0.9" />
<text x="254.56" y="512.00" font-size="5.6" text-anchor="end" fill="#303030" textLength="8.40" lengthAdjust="spacingAndGlyphs" transform="rotate(-50 254.56 512.00)" >500</text>
<line x1="262.98" y1="495.97" x2="262.98" y2="493.35" stroke="#8f86c8" stroke-width="0.9" />
<line x1="261.68" y1="493.35" x2="264.28" y2="493.35" stroke="#8f86c8" stroke-width="0.9" />
<rect x="260.58" y="495.97" width="4.80" height="6.43" fill="#8f86c8" />
<line x1="262.98" y1="502.00" x2="262.98" y2="505.30" stroke="#1e1e1e" stroke-width="0.9" />
<text x="265.68" y="512.00" font-size="5.6" text-anchor="end" fill="#303030" textLength="2.80" lengthAdjust="spacingAndGlyphs" transform="rotate(-50 265.68 512.00)" >0</text>
<line x1="269.98" y1="495.36" x2="269.98" y2="490.44" stroke="#8f86c8" stroke-width="0.9" />
<line x1="268.68" y1="490.44" x2="271.28" y2="490.44" stroke="#8f86c8" stroke-width="0.9" />
<rect x="267.58" y="495.36" width="4.80" height="7.03" fill="#8f86c8" />
<line x1="269.98" y1="502.00" x2="269.98" y2="505.30" stroke="#1e1e1e" stroke-width="0.9" />
<text x="272.68" y="512.00" font-size="5.6" text-anchor="end" fill="#303030" textLength="5.60" lengthAdjust="spacingAndGlyphs" transform="rotate(-50 272.68 512.00)" >16</text>
<line x1="276.98" y1="494.96" x2="276.98" y2="491.14" stroke="#8f86c8" stroke-width="0.9" />
<line x1="275.68" y1="491.14" x2="278.28" y2="491.14" stroke="#8f86c8" stroke-width="0.9" />
<rect x="274.58" y="494.96" width="4.80" height="7.44" fill="#8f86c8" />
<line x1="276.98" y1="502.00" x2="276.98" y2="505.30" stroke="#1e1e1e" stroke-width="0.9" />
<text x="279.68" y="512.00" font-size="5.6" text-anchor="end" fill="#303030" textLength="5.60" lengthAdjust="spacingAndGlyphs" transform="rotate(-50 279.68 512.00)" >32</text>
<line x1="283.98" y1="491.24" x2="283.98" y2="484.61" stroke="#8f86c8" stroke-width="0.9" />
<line x1="282.68" y1="484.61" x2="285.28" y2="484.61" stroke="#8f86c8" stroke-width="0.9" />
<rect x="281.58" y="491.24" width="4.80" height="11.16" fill="#8f86c8" />
<line x1="283.98" y1="502.00" x2="283.98" y2="505.30" stroke="#1e1e1e" stroke-width="0.9" />
<text x="286.68" y="512.00" font-size="5.6" text-anchor="end" fill="#303030" textLength="5.60" lengthAdjust="spacingAndGlyphs" transform="rotate(-50 286.68 512.00)" >63</text>
<line x1="290.98" y1="488.53" x2="290.98" y2="483.30" stroke="#8f86c8" stroke-width="0.9" />
<line x1="289.68" y1="483.30" x2="292.28" y2="483.30" stroke="#8f86c8" stroke-width="0.9" />
<rect x="288.58" y="488.53" width="4.80" height="13.87" fill="#8f86c8" />
<line x1="290.98" y1="502.00" x2="290.98" y2="505.30" stroke="#1e1e1e" stroke-width="0.9" />
<text x="293.68" y="512.00" font-size="5.6" text-anchor="end" fill="#303030" textLength="8.40" lengthAdjust="spacingAndGlyphs" transform="rotate(-50 293.68 512.00)" >125</text>
<rect x="295.58" y="493.46" width="4.80" height="8.94" fill="#8f86c8" />
<line x1="297.98" y1="502.00" x2="297.98" y2="505.30" stroke="#1e1e1e" stroke-width="0.9" />
<text x="300.68" y="512.00" font-size="5.6" text-anchor="end" fill="#303030" textLength="8.40" lengthAdjust="spacingAndGlyphs" transform="rotate(-50 300.68 512.00)" >250</text>
<rect x="302.58" y="492.55" width="4.80" height="9.85" fill="#8f86c8" />
<line x1="304.98" y1="502.00" x2="304.98" y2="505.30" stroke="#1e1e1e" stroke-width="0.9" />
<text x="307.68" y="512.00" font-size="5.6" text-anchor="end" fill="#303030" textLength="8.40" lengthAdjust="spacingAndGlyphs" transform="rotate(-50 307.68 512.00)" >500</text>
<line x1="316.10" y1="493.86" x2="316.10" y2="491.24" stroke="#5aa6e4" stroke-width="0.9" />
<line x1="314.80" y1="491.24" x2="317.40" y2="491.24" stroke="#5aa6e4" stroke-width="0.9" />
<rect x="313.70" y="493.86" width="4.80" height="8.54" fill="#5aa6e4" />
<line x1="316.10" y1="502.00" x2="316.10" y2="505.30" stroke="#1e1e1e" stroke-width="0.9" />
<text x="318.80" y="512.00" font-size="5.6" text-anchor="end" fill="#303030" textLength="2.80" lengthAdjust="spacingAndGlyphs" transform="rotate(-50 318.80 512.00)" >0</text>
<rect x="320.70" y="493.86" width="4.80" height="8.54" fill="#5aa6e4" />
<line x1="323.10" y1="502.00" x2="323.10" y2="505.30" stroke="#1e1e1e" stroke-width="0.9" />
<text x="325.80" y="512.00" font-size="5.6" text-anchor="end" fill="#303030" textLength="5.60" lengthAdjust="spacingAndGlyphs" transform="rotate(-50 325.80 512.00)" >16</text>
<line x1="330.10" y1="488.53" x2="330.10" y2="482.00" stroke="#5aa6e4" stroke-width="0.9" />
<line x1="328.80" y1="482.00" x2="331.40" y2="482.00" stroke="#5aa6e4" stroke-width="0.9" />
<rect x="327.70" y="488.53" width="4.80" height="13.87" fill="#5aa6e4" />
<line x1="330.10" y1="502.00" x2="330.10" y2="505.30" stroke="#1e1e1e" stroke-width="0.9" />
<text x="332.80" y="512.00" font-size="5.6" text-anchor="end" fill="#303030" textLength="5.60" lengthAdjust="spacingAndGlyphs" transform="rotate(-50 332.80 512.00)" >32</text>
<line x1="337.10" y1="488.53" x2="337.10" y2="486.62" stroke="#5aa6e4" stroke-width="0.9" />
<line x1="335.80" y1="486.62" x2="338.40" y2="486.62" stroke="#5aa6e4" stroke-width="0.9" />
<rect x="334.70" y="488.53" width="4.80" height="13.87" fill="#5aa6e4" />
<line x1="337.10" y1="502.00" x2="337.10" y2="505.30" stroke="#1e1e1e" stroke-width="0.9" />
<text x="339.80" y="512.00" font-size="5.6" text-anchor="end" fill="#303030" textLength="5.60" lengthAdjust="spacingAndGlyphs" transform="rotate(-50 339.80 512.00)" >63</text>
<line x1="344.10" y1="488.53" x2="344.10" y2="486.62" stroke="#5aa6e4" stroke-width="0.9" />
<line x1="342.80" y1="486.62" x2="345.40" y2="486.62" stroke="#5aa6e4" stroke-width="0.9" />
<rect x="341.70" y="488.53" width="4.80" height="13.87" fill="#5aa6e4" />
<line x1="344.10" y1="502.00" x2="344.10" y2="505.30" stroke="#1e1e1e" stroke-width="0.9" />
<text x="346.80" y="512.00" font-size="5.6" text-anchor="end" fill="#303030" textLength="8.40" lengthAdjust="spacingAndGlyphs" transform="rotate(-50 346.80 512.00)" >125</text>
<line x1="351.10" y1="483.30" x2="351.10" y2="482.00" stroke="#5aa6e4" stroke-width="0.9" />
<line x1="349.80" y1="482.00" x2="352.40" y2="482.00" stroke="#5aa6e4" stroke-width="0.9" />
<rect x="348.70" y="483.30" width="4.80" height="19.09" fill="#5aa6e4" />
<line x1="351.10" y1="502.00" x2="351.10" y2="505.30" stroke="#1e1e1e" stroke-width="0.9" />
<text x="353.80" y="512.00" font-size="5.6" text-anchor="end" fill="#303030" textLength="8.40" lengthAdjust="spacingAndGlyphs" transform="rotate(-50 353.80 512.00)" >250</text>
<line x1="358.10" y1="478.08" x2="358.10" y2="475.47" stroke="#5aa6e4" stroke-width="0.9" />
<line x1="356.80" y1="475.47" x2="359.40" y2="475.47" stroke="#5aa6e4" stroke-width="0.9" />
<rect x="355.70" y="478.08" width="4.80" height="24.32" fill="#5aa6e4" />
<line x1="358.10" y1="502.00" x2="358.10" y2="505.30" stroke="#1e1e1e" stroke-width="0.9" />
<text x="360.80" y="512.00" font-size="5.6" text-anchor="end" fill="#303030" textLength="8.40" lengthAdjust="spacingAndGlyphs" transform="rotate(-50 360.80 512.00)" >500</text>
<line x1="45.30" y1="399.20" x2="45.30" y2="503.00" stroke="#1e1e1e" stroke-width="1.5" />
<line x1="42.30" y1="502.50" x2="363.60" y2="502.50" stroke="#1e1e1e" stroke-width="1.5" />
<line x1="42.60" y1="502.40" x2="45.30" y2="502.40" stroke="#1e1e1e" stroke-width="1.0" />
<text x="38.80" y="504.30" font-size="5.5" text-anchor="end" fill="#303030" stroke="#303030" stroke-width="0.08" textLength="2.65" lengthAdjust="spacingAndGlyphs" >0</text>
<line x1="42.60" y1="477.27" x2="45.30" y2="477.27" stroke="#1e1e1e" stroke-width="1.0" />
<text x="38.80" y="479.17" font-size="5.5" text-anchor="end" fill="#303030" stroke="#303030" stroke-width="0.08" textLength="5.30" lengthAdjust="spacingAndGlyphs" >25</text>
<line x1="42.60" y1="452.15" x2="45.30" y2="452.15" stroke="#1e1e1e" stroke-width="1.0" />
<text x="38.80" y="454.05" font-size="5.5" text-anchor="end" fill="#303030" stroke="#303030" stroke-width="0.08" textLength="5.30" lengthAdjust="spacingAndGlyphs" >50</text>
<line x1="42.60" y1="427.02" x2="45.30" y2="427.02" stroke="#1e1e1e" stroke-width="1.0" />
<text x="38.80" y="428.92" font-size="5.5" text-anchor="end" fill="#303030" stroke="#303030" stroke-width="0.08" textLength="5.30" lengthAdjust="spacingAndGlyphs" >75</text>
<line x1="42.60" y1="401.90" x2="45.30" y2="401.90" stroke="#1e1e1e" stroke-width="1.0" />
<text x="38.80" y="403.80" font-size="5.5" text-anchor="end" fill="#303030" stroke="#303030" stroke-width="0.08" textLength="7.95" lengthAdjust="spacingAndGlyphs" >100</text>
<text x="25.40" y="451.00" font-size="6.4" text-anchor="middle" fill="#303030" textLength="48.50" lengthAdjust="spacingAndGlyphs" transform="rotate(-90 25.40 451.00)" >% annexin V+ cells</text>
<text x="204.50" y="528.00" font-size="7.0" text-anchor="middle" fill="#303030" textLength="86.50" lengthAdjust="spacingAndGlyphs" >AZ'5576 drug concentration (nM)</text>
<rect x="296.20" y="400.30" width="5.80" height="2.40" fill="#c7c6cb" />
<text x="305.00" y="403.00" font-size="4.4" text-anchor="start" fill="#4a4a4a" textLength="25.80" lengthAdjust="spacingAndGlyphs" >Empty Vector</text>
<rect x="296.20" y="407.30" width="5.80" height="2.40" fill="#a3032f" />
<text x="305.00" y="410.00" font-size="4.4" text-anchor="start" fill="#4a4a4a" textLength="15.00" lengthAdjust="spacingAndGlyphs" >BCL2A1</text>
<rect x="296.20" y="413.90" width="5.80" height="2.40" fill="#264a88" />
<text x="305.00" y="416.60" font-size="4.4" text-anchor="start" fill="#4a4a4a" textLength="10.50" lengthAdjust="spacingAndGlyphs" >MCL1</text>
<rect x="340.00" y="400.30" width="5.80" height="2.40" fill="#2a3f80" />
<text x="348.80" y="403.00" font-size="4.4" text-anchor="start" fill="#4a4a4a" textLength="9.50" lengthAdjust="spacingAndGlyphs" >BCL2</text>
<rect x="340.00" y="407.30" width="5.80" height="2.40" fill="#8f86c8" />
<text x="348.80" y="410.00" font-size="4.4" text-anchor="start" fill="#4a4a4a" textLength="14.00" lengthAdjust="spacingAndGlyphs" >BCL2L1</text>
<rect x="340.00" y="413.90" width="5.80" height="2.40" fill="#5aa6e4" />
<text x="348.80" y="416.60" font-size="4.4" text-anchor="start" fill="#4a4a4a" textLength="14.00" lengthAdjust="spacingAndGlyphs" >BCL2L2</text>
<rect x="0.5" y="0.5" width="519" height="536" fill="none" stroke="#000" stroke-width="1.2"/>
</svg>
</body></html>
